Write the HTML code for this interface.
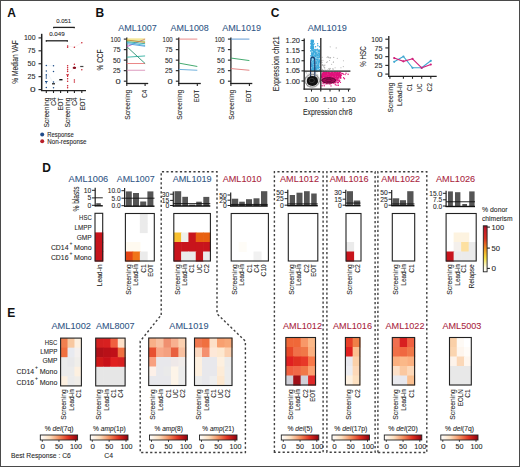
<!DOCTYPE html>
<html><head><meta charset="utf-8"><style>
html,body{margin:0;padding:0;background:#fff;width:520px;height:467px;overflow:hidden}
svg{display:block;font-family:"Liberation Sans", sans-serif}
</style></head><body>
<svg width="520" height="467" viewBox="0 0 520 467">
<rect width="520" height="467" fill="#fff"/>
<text x="7.30" y="16.90" font-size="12" fill="#111" font-weight="bold">A</text>
<text x="63.70" y="22.59" font-size="5.8" fill="#262626" text-anchor="middle" textLength="15.00" lengthAdjust="spacingAndGlyphs" stroke="#262626" stroke-width="0.08">0.051</text>
<line x1="53.20" y1="27.40" x2="74.70" y2="27.40" stroke="#222" stroke-width="1.3"/>
<line x1="53.70" y1="27.00" x2="53.70" y2="28.30" stroke="#222" stroke-width="1"/>
<line x1="74.20" y1="27.00" x2="74.20" y2="28.30" stroke="#222" stroke-width="1"/>
<text x="56.90" y="35.89" font-size="5.8" fill="#262626" text-anchor="middle" textLength="15.50" lengthAdjust="spacingAndGlyphs" stroke="#262626" stroke-width="0.08">0.049</text>
<line x1="45.80" y1="40.80" x2="67.80" y2="40.80" stroke="#222" stroke-width="1.3"/>
<line x1="46.30" y1="40.40" x2="46.30" y2="41.70" stroke="#222" stroke-width="1"/>
<line x1="67.30" y1="40.40" x2="67.30" y2="41.70" stroke="#222" stroke-width="1"/>
<line x1="41.70" y1="33.80" x2="41.70" y2="91.00" stroke="#222" stroke-width="1.5"/>
<line x1="38.50" y1="89.60" x2="41.60" y2="89.60" stroke="#222" stroke-width="1.1"/>
<text x="35.60" y="92.19" font-size="7.2" fill="#262626" text-anchor="end" textLength="5.60" lengthAdjust="spacingAndGlyphs" stroke="#262626" stroke-width="0.08">0</text>
<line x1="38.50" y1="76.67" x2="41.60" y2="76.67" stroke="#222" stroke-width="1.1"/>
<text x="35.60" y="79.27" font-size="7.2" fill="#262626" text-anchor="end" textLength="8.00" lengthAdjust="spacingAndGlyphs" stroke="#262626" stroke-width="0.08">25</text>
<line x1="38.50" y1="63.75" x2="41.60" y2="63.75" stroke="#222" stroke-width="1.1"/>
<text x="35.60" y="66.34" font-size="7.2" fill="#262626" text-anchor="end" textLength="8.00" lengthAdjust="spacingAndGlyphs" stroke="#262626" stroke-width="0.08">50</text>
<line x1="38.50" y1="50.82" x2="41.60" y2="50.82" stroke="#222" stroke-width="1.1"/>
<text x="35.60" y="53.42" font-size="7.2" fill="#262626" text-anchor="end" textLength="8.00" lengthAdjust="spacingAndGlyphs" stroke="#262626" stroke-width="0.08">75</text>
<line x1="38.50" y1="37.90" x2="41.60" y2="37.90" stroke="#222" stroke-width="1.1"/>
<text x="35.60" y="40.49" font-size="7.2" fill="#262626" text-anchor="end" textLength="11.60" lengthAdjust="spacingAndGlyphs" stroke="#262626" stroke-width="0.08">100</text>
<line x1="41.00" y1="90.60" x2="86.00" y2="90.60" stroke="#222" stroke-width="1.3"/>
<line x1="46.30" y1="90.60" x2="46.30" y2="93.00" stroke="#222" stroke-width="1.1"/>
<line x1="53.50" y1="90.60" x2="53.50" y2="93.00" stroke="#222" stroke-width="1.1"/>
<line x1="60.60" y1="90.60" x2="60.60" y2="93.00" stroke="#222" stroke-width="1.1"/>
<line x1="67.60" y1="90.60" x2="67.60" y2="93.00" stroke="#222" stroke-width="1.1"/>
<line x1="74.40" y1="90.60" x2="74.40" y2="93.00" stroke="#222" stroke-width="1.1"/>
<line x1="81.80" y1="90.60" x2="81.80" y2="93.00" stroke="#222" stroke-width="1.1"/>
<text transform="translate(18.10,61.90) rotate(-90)" font-size="8.6" fill="#262626" text-anchor="middle" textLength="43.60" lengthAdjust="spacingAndGlyphs" stroke="#262626" stroke-width="0.08">% Median VAF</text>
<text transform="translate(49.12,97.60) rotate(-90)" font-size="7.0" fill="#262626" text-anchor="end" textLength="30.00" lengthAdjust="spacingAndGlyphs" stroke="#262626" stroke-width="0.08">Screening</text>
<text transform="translate(56.32,97.60) rotate(-90)" font-size="7.0" fill="#262626" text-anchor="end" textLength="8.20" lengthAdjust="spacingAndGlyphs" stroke="#262626" stroke-width="0.08">C4</text>
<text transform="translate(63.42,97.60) rotate(-90)" font-size="7.0" fill="#262626" text-anchor="end" textLength="13.00" lengthAdjust="spacingAndGlyphs" stroke="#262626" stroke-width="0.08">EOT</text>
<text transform="translate(70.42,97.60) rotate(-90)" font-size="7.0" fill="#262626" text-anchor="end" textLength="30.00" lengthAdjust="spacingAndGlyphs" stroke="#262626" stroke-width="0.08">Screening</text>
<text transform="translate(77.22,97.60) rotate(-90)" font-size="7.0" fill="#262626" text-anchor="end" textLength="8.20" lengthAdjust="spacingAndGlyphs" stroke="#262626" stroke-width="0.08">C4</text>
<text transform="translate(84.62,97.60) rotate(-90)" font-size="7.0" fill="#262626" text-anchor="end" textLength="13.00" lengthAdjust="spacingAndGlyphs" stroke="#262626" stroke-width="0.08">EOT</text>
<path d="M46.3,71 L53.5,83.5 L60.6,79.7" stroke="#e2ecf5" fill="none" stroke-width="0.5"/>
<path d="M46.3,65.6 L53.5,65.8" stroke="#e2ecf5" fill="none" stroke-width="0.5"/>
<path d="M67.6,74.8 L74.4,67.8 L81.8,66.5" stroke="#f8e2e4" fill="none" stroke-width="0.5"/>
<path d="M67.6,46 L74.4,47.2 L81.8,42.7" stroke="#f8e2e4" fill="none" stroke-width="0.5"/>
<circle cx="46.30" cy="65.60" r="0.75" fill="#1f4f8a"/>
<circle cx="46.30" cy="71.00" r="0.75" fill="#1f4f8a"/>
<circle cx="46.30" cy="74.80" r="0.75" fill="#1f4f8a"/>
<circle cx="46.30" cy="76.10" r="0.75" fill="#1f4f8a"/>
<circle cx="46.30" cy="78.00" r="0.75" fill="#1f4f8a"/>
<circle cx="46.30" cy="87.40" r="0.75" fill="#1f4f8a"/>
<path d="M45,81.5 L47.6,81.5 M46.3,81.5 L46.3,83.5" stroke="#1f4f8a" fill="none" stroke-width="1.1"/>
<circle cx="53.50" cy="65.80" r="0.75" fill="#1f4f8a"/>
<circle cx="53.50" cy="71.40" r="0.75" fill="#1f4f8a"/>
<circle cx="53.50" cy="81.90" r="0.75" fill="#1f4f8a"/>
<circle cx="53.50" cy="87.70" r="0.75" fill="#1f4f8a"/>
<path d="M52,83.8 L55,83.8" stroke="#111" fill="none" stroke-width="1.2"/>
<path d="M59.3,79.7 L62.5,79.7" stroke="#111" fill="none" stroke-width="1.4"/>
<circle cx="67.60" cy="45.90" r="0.75" fill="#c8202e"/>
<circle cx="67.60" cy="47.20" r="0.75" fill="#c8202e"/>
<circle cx="67.60" cy="65.80" r="0.75" fill="#c8202e"/>
<circle cx="67.60" cy="67.80" r="0.75" fill="#c8202e"/>
<circle cx="67.60" cy="69.70" r="0.75" fill="#c8202e"/>
<circle cx="67.60" cy="71.60" r="0.75" fill="#c8202e"/>
<circle cx="67.60" cy="78.70" r="0.75" fill="#c8202e"/>
<circle cx="67.60" cy="81.30" r="0.75" fill="#c8202e"/>
<circle cx="67.60" cy="85.80" r="0.75" fill="#c8202e"/>
<circle cx="67.60" cy="87.70" r="0.75" fill="#c8202e"/>
<path d="M66.2,74.8 L69,74.8 M67.6,74.8 L67.6,77" stroke="#c8202e" fill="none" stroke-width="1.1"/>
<circle cx="74.40" cy="47.20" r="0.75" fill="#c8202e"/>
<circle cx="74.40" cy="64.30" r="0.75" fill="#c8202e"/>
<circle cx="74.40" cy="80.00" r="0.75" fill="#c8202e"/>
<circle cx="74.40" cy="81.90" r="0.75" fill="#c8202e"/>
<path d="M72.8,67.8 L76,67.8" stroke="#8a1020" fill="none" stroke-width="1.6"/>
<circle cx="74.40" cy="67.80" r="1.2" fill="#8a1020"/>
<circle cx="81.80" cy="42.70" r="0.75" fill="#c8202e"/>
<circle cx="81.80" cy="69.70" r="0.75" fill="#c8202e"/>
<path d="M80.2,66.5 L83.4,66.5" stroke="#444" fill="none" stroke-width="1.2"/>
<circle cx="42.20" cy="134.60" r="2.0" fill="#1f4a8a"/>
<text x="47.30" y="136.87" font-size="6.3" fill="#262626" textLength="26.40" lengthAdjust="spacingAndGlyphs" stroke="#262626" stroke-width="0.08">Response</text>
<circle cx="42.20" cy="141.30" r="2.0" fill="#b8202a"/>
<text x="47.30" y="143.57" font-size="6.3" fill="#262626" textLength="39.20" lengthAdjust="spacingAndGlyphs" stroke="#262626" stroke-width="0.08">Non-response</text>
<text x="95.60" y="16.90" font-size="12" fill="#111" font-weight="bold">B</text>
<text x="137.55" y="31.36" font-size="9.6" fill="#2f5585" text-anchor="middle" textLength="38.50" lengthAdjust="spacingAndGlyphs" stroke="#2f5585" stroke-width="0.08">AML1007</text>
<line x1="126.80" y1="37.50" x2="126.80" y2="84.00" stroke="#222" stroke-width="1.3"/>
<line x1="123.80" y1="81.20" x2="126.80" y2="81.20" stroke="#222" stroke-width="1.1"/>
<text x="120.60" y="83.72" font-size="7" fill="#262626" text-anchor="end" textLength="5.20" lengthAdjust="spacingAndGlyphs" stroke="#262626" stroke-width="0.08">0</text>
<line x1="123.80" y1="70.67" x2="126.80" y2="70.67" stroke="#222" stroke-width="1.1"/>
<text x="120.60" y="73.19" font-size="7" fill="#262626" text-anchor="end" textLength="7.60" lengthAdjust="spacingAndGlyphs" stroke="#262626" stroke-width="0.08">25</text>
<line x1="123.80" y1="60.15" x2="126.80" y2="60.15" stroke="#222" stroke-width="1.1"/>
<text x="120.60" y="62.67" font-size="7" fill="#262626" text-anchor="end" textLength="7.60" lengthAdjust="spacingAndGlyphs" stroke="#262626" stroke-width="0.08">50</text>
<line x1="123.80" y1="49.62" x2="126.80" y2="49.62" stroke="#222" stroke-width="1.1"/>
<text x="120.60" y="52.15" font-size="7" fill="#262626" text-anchor="end" textLength="7.60" lengthAdjust="spacingAndGlyphs" stroke="#262626" stroke-width="0.08">75</text>
<line x1="123.80" y1="39.10" x2="126.80" y2="39.10" stroke="#222" stroke-width="1.1"/>
<text x="120.60" y="41.62" font-size="7" fill="#262626" text-anchor="end" textLength="10.00" lengthAdjust="spacingAndGlyphs" stroke="#262626" stroke-width="0.08">100</text>
<line x1="126.20" y1="83.50" x2="148.20" y2="83.50" stroke="#222" stroke-width="1.3"/>
<line x1="126.80" y1="83.50" x2="126.80" y2="86.00" stroke="#222" stroke-width="1.1"/>
<text transform="translate(130.05,89.80) rotate(-90)" font-size="6.8" fill="#262626" text-anchor="end" textLength="30.00" lengthAdjust="spacingAndGlyphs" stroke="#262626" stroke-width="0.08">Screening</text>
<line x1="145.10" y1="83.50" x2="145.10" y2="86.00" stroke="#222" stroke-width="1.1"/>
<text transform="translate(146.95,89.80) rotate(-90)" font-size="6.8" fill="#262626" text-anchor="end" textLength="8.00" lengthAdjust="spacingAndGlyphs" stroke="#262626" stroke-width="0.08">C4</text>
<line x1="126.80" y1="70.25" x2="145.10" y2="70.25" stroke="#d890b8" stroke-width="0.9"/>
<line x1="126.80" y1="63.52" x2="145.10" y2="63.52" stroke="#e87878" stroke-width="0.9"/>
<line x1="126.80" y1="57.20" x2="145.10" y2="55.94" stroke="#30b0a0" stroke-width="0.9"/>
<line x1="126.80" y1="46.68" x2="145.10" y2="63.52" stroke="#2a9070" stroke-width="0.9"/>
<line x1="126.80" y1="46.68" x2="145.10" y2="39.10" stroke="#c050c0" stroke-width="0.9"/>
<line x1="126.80" y1="42.47" x2="145.10" y2="45.42" stroke="#40b8e0" stroke-width="0.9"/>
<line x1="126.80" y1="43.73" x2="145.10" y2="46.26" stroke="#5098d8" stroke-width="0.9"/>
<line x1="126.80" y1="41.63" x2="145.10" y2="43.73" stroke="#30a898" stroke-width="0.9"/>
<line x1="126.80" y1="40.78" x2="145.10" y2="41.21" stroke="#90c840" stroke-width="0.9"/>
<line x1="126.80" y1="39.94" x2="145.10" y2="42.47" stroke="#c88840" stroke-width="0.9"/>
<line x1="126.80" y1="39.10" x2="145.10" y2="39.10" stroke="#e8d040" stroke-width="0.9"/>
<text x="189.70" y="31.36" font-size="9.6" fill="#2f5585" text-anchor="middle" textLength="38.20" lengthAdjust="spacingAndGlyphs" stroke="#2f5585" stroke-width="0.08">AML1008</text>
<line x1="178.80" y1="37.50" x2="178.80" y2="84.00" stroke="#222" stroke-width="1.3"/>
<line x1="175.80" y1="81.20" x2="178.80" y2="81.20" stroke="#222" stroke-width="1.1"/>
<text x="172.60" y="83.72" font-size="7" fill="#262626" text-anchor="end" textLength="5.20" lengthAdjust="spacingAndGlyphs" stroke="#262626" stroke-width="0.08">0</text>
<line x1="175.80" y1="70.67" x2="178.80" y2="70.67" stroke="#222" stroke-width="1.1"/>
<text x="172.60" y="73.19" font-size="7" fill="#262626" text-anchor="end" textLength="7.60" lengthAdjust="spacingAndGlyphs" stroke="#262626" stroke-width="0.08">25</text>
<line x1="175.80" y1="60.15" x2="178.80" y2="60.15" stroke="#222" stroke-width="1.1"/>
<text x="172.60" y="62.67" font-size="7" fill="#262626" text-anchor="end" textLength="7.60" lengthAdjust="spacingAndGlyphs" stroke="#262626" stroke-width="0.08">50</text>
<line x1="175.80" y1="49.62" x2="178.80" y2="49.62" stroke="#222" stroke-width="1.1"/>
<text x="172.60" y="52.15" font-size="7" fill="#262626" text-anchor="end" textLength="7.60" lengthAdjust="spacingAndGlyphs" stroke="#262626" stroke-width="0.08">75</text>
<line x1="175.80" y1="39.10" x2="178.80" y2="39.10" stroke="#222" stroke-width="1.1"/>
<text x="172.60" y="41.62" font-size="7" fill="#262626" text-anchor="end" textLength="10.00" lengthAdjust="spacingAndGlyphs" stroke="#262626" stroke-width="0.08">100</text>
<line x1="178.20" y1="83.50" x2="200.80" y2="83.50" stroke="#222" stroke-width="1.3"/>
<line x1="178.80" y1="83.50" x2="178.80" y2="86.00" stroke="#222" stroke-width="1.1"/>
<text transform="translate(182.05,89.80) rotate(-90)" font-size="6.8" fill="#262626" text-anchor="end" textLength="30.00" lengthAdjust="spacingAndGlyphs" stroke="#262626" stroke-width="0.08">Screening</text>
<line x1="197.30" y1="83.50" x2="197.30" y2="86.00" stroke="#222" stroke-width="1.1"/>
<text transform="translate(199.15,89.80) rotate(-90)" font-size="6.8" fill="#262626" text-anchor="end" textLength="12.50" lengthAdjust="spacingAndGlyphs" stroke="#262626" stroke-width="0.08">EOT</text>
<line x1="178.80" y1="39.10" x2="197.30" y2="39.10" stroke="#e88080" stroke-width="0.9"/>
<line x1="178.80" y1="63.10" x2="197.30" y2="66.47" stroke="#30a060" stroke-width="0.9"/>
<line x1="178.80" y1="69.41" x2="197.30" y2="70.25" stroke="#60a8d8" stroke-width="0.9"/>
<text x="241.65" y="31.36" font-size="9.6" fill="#2f5585" text-anchor="middle" textLength="38.70" lengthAdjust="spacingAndGlyphs" stroke="#2f5585" stroke-width="0.08">AML1019</text>
<line x1="230.90" y1="37.50" x2="230.90" y2="84.00" stroke="#222" stroke-width="1.3"/>
<line x1="227.90" y1="81.20" x2="230.90" y2="81.20" stroke="#222" stroke-width="1.1"/>
<text x="224.70" y="83.72" font-size="7" fill="#262626" text-anchor="end" textLength="5.20" lengthAdjust="spacingAndGlyphs" stroke="#262626" stroke-width="0.08">0</text>
<line x1="227.90" y1="70.67" x2="230.90" y2="70.67" stroke="#222" stroke-width="1.1"/>
<text x="224.70" y="73.19" font-size="7" fill="#262626" text-anchor="end" textLength="7.60" lengthAdjust="spacingAndGlyphs" stroke="#262626" stroke-width="0.08">25</text>
<line x1="227.90" y1="60.15" x2="230.90" y2="60.15" stroke="#222" stroke-width="1.1"/>
<text x="224.70" y="62.67" font-size="7" fill="#262626" text-anchor="end" textLength="7.60" lengthAdjust="spacingAndGlyphs" stroke="#262626" stroke-width="0.08">50</text>
<line x1="227.90" y1="49.62" x2="230.90" y2="49.62" stroke="#222" stroke-width="1.1"/>
<text x="224.70" y="52.15" font-size="7" fill="#262626" text-anchor="end" textLength="7.60" lengthAdjust="spacingAndGlyphs" stroke="#262626" stroke-width="0.08">75</text>
<line x1="227.90" y1="39.10" x2="230.90" y2="39.10" stroke="#222" stroke-width="1.1"/>
<text x="224.70" y="41.62" font-size="7" fill="#262626" text-anchor="end" textLength="10.00" lengthAdjust="spacingAndGlyphs" stroke="#262626" stroke-width="0.08">100</text>
<line x1="230.30" y1="83.50" x2="252.30" y2="83.50" stroke="#222" stroke-width="1.3"/>
<line x1="230.90" y1="83.50" x2="230.90" y2="86.00" stroke="#222" stroke-width="1.1"/>
<text transform="translate(234.15,89.80) rotate(-90)" font-size="6.8" fill="#262626" text-anchor="end" textLength="30.00" lengthAdjust="spacingAndGlyphs" stroke="#262626" stroke-width="0.08">Screening</text>
<line x1="249.40" y1="83.50" x2="249.40" y2="86.00" stroke="#222" stroke-width="1.1"/>
<text transform="translate(251.25,89.80) rotate(-90)" font-size="6.8" fill="#262626" text-anchor="end" textLength="12.50" lengthAdjust="spacingAndGlyphs" stroke="#262626" stroke-width="0.08">EOT</text>
<line x1="230.90" y1="39.10" x2="249.40" y2="39.10" stroke="#5090d0" stroke-width="0.9"/>
<line x1="230.90" y1="58.05" x2="249.40" y2="60.57" stroke="#30a060" stroke-width="0.9"/>
<line x1="230.90" y1="68.57" x2="249.40" y2="70.25" stroke="#e07878" stroke-width="0.9"/>
<text transform="translate(103.02,60.00) rotate(-90)" font-size="8.4" fill="#262626" text-anchor="middle" textLength="20.90" lengthAdjust="spacingAndGlyphs" stroke="#262626" stroke-width="0.08">% CCF</text>
<text x="270.80" y="17.20" font-size="12" fill="#111" font-weight="bold">C</text>
<text x="327.30" y="31.36" font-size="9.6" fill="#2f5585" text-anchor="middle" textLength="39.20" lengthAdjust="spacingAndGlyphs" stroke="#2f5585" stroke-width="0.08">AML1019</text>
<text transform="translate(278.70,63.80) rotate(-90)" font-size="8.6" fill="#262626" text-anchor="middle" textLength="55.00" lengthAdjust="spacingAndGlyphs" stroke="#262626" stroke-width="0.08">Expression chr21</text>
<text x="327.60" y="114.90" font-size="8.6" fill="#262626" text-anchor="middle" textLength="49.30" lengthAdjust="spacingAndGlyphs" stroke="#262626" stroke-width="0.08">Expression chr8</text>
<ellipse cx="312.5" cy="80" rx="7.5" ry="8" fill="#d8d8d8" opacity="0.8"/>
<circle cx="311.60" cy="82.05" r="0.6" fill="#a0a0a0" opacity="0.8"/>
<circle cx="311.71" cy="78.74" r="0.6" fill="#a0a0a0" opacity="0.8"/>
<circle cx="309.24" cy="79.15" r="0.6" fill="#a0a0a0" opacity="0.8"/>
<circle cx="316.39" cy="81.70" r="0.6" fill="#a0a0a0" opacity="0.8"/>
<circle cx="316.13" cy="81.00" r="0.6" fill="#a0a0a0" opacity="0.8"/>
<circle cx="313.88" cy="80.74" r="0.6" fill="#a0a0a0" opacity="0.8"/>
<circle cx="306.67" cy="83.42" r="0.6" fill="#a0a0a0" opacity="0.8"/>
<circle cx="314.27" cy="82.00" r="0.6" fill="#a0a0a0" opacity="0.8"/>
<circle cx="306.58" cy="73.02" r="0.6" fill="#a0a0a0" opacity="0.8"/>
<circle cx="309.39" cy="78.13" r="0.6" fill="#a0a0a0" opacity="0.8"/>
<circle cx="313.57" cy="79.82" r="0.6" fill="#a0a0a0" opacity="0.8"/>
<circle cx="314.32" cy="77.43" r="0.6" fill="#a0a0a0" opacity="0.8"/>
<circle cx="313.58" cy="81.58" r="0.6" fill="#a0a0a0" opacity="0.8"/>
<circle cx="310.19" cy="86.87" r="0.6" fill="#a0a0a0" opacity="0.8"/>
<circle cx="314.45" cy="84.79" r="0.6" fill="#a0a0a0" opacity="0.8"/>
<circle cx="310.33" cy="77.04" r="0.6" fill="#a0a0a0" opacity="0.8"/>
<circle cx="311.30" cy="79.57" r="0.6" fill="#a0a0a0" opacity="0.8"/>
<circle cx="314.71" cy="80.99" r="0.6" fill="#a0a0a0" opacity="0.8"/>
<circle cx="310.93" cy="76.17" r="0.6" fill="#a0a0a0" opacity="0.8"/>
<circle cx="310.68" cy="84.88" r="0.6" fill="#a0a0a0" opacity="0.8"/>
<circle cx="309.67" cy="80.98" r="0.6" fill="#a0a0a0" opacity="0.8"/>
<circle cx="313.99" cy="74.04" r="0.6" fill="#a0a0a0" opacity="0.8"/>
<circle cx="312.67" cy="85.22" r="0.6" fill="#a0a0a0" opacity="0.8"/>
<circle cx="305.50" cy="78.71" r="0.6" fill="#a0a0a0" opacity="0.8"/>
<circle cx="312.13" cy="76.73" r="0.6" fill="#a0a0a0" opacity="0.8"/>
<circle cx="314.24" cy="79.75" r="0.6" fill="#a0a0a0" opacity="0.8"/>
<circle cx="307.37" cy="83.31" r="0.6" fill="#a0a0a0" opacity="0.8"/>
<circle cx="314.84" cy="83.78" r="0.6" fill="#a0a0a0" opacity="0.8"/>
<circle cx="317.54" cy="81.45" r="0.6" fill="#a0a0a0" opacity="0.8"/>
<circle cx="312.92" cy="74.80" r="0.6" fill="#a0a0a0" opacity="0.8"/>
<circle cx="314.65" cy="77.55" r="0.6" fill="#a0a0a0" opacity="0.8"/>
<circle cx="310.92" cy="74.94" r="0.6" fill="#a0a0a0" opacity="0.8"/>
<circle cx="309.11" cy="77.88" r="0.6" fill="#a0a0a0" opacity="0.8"/>
<circle cx="317.01" cy="72.00" r="0.6" fill="#a0a0a0" opacity="0.8"/>
<circle cx="307.40" cy="80.96" r="0.6" fill="#a0a0a0" opacity="0.8"/>
<circle cx="317.55" cy="82.31" r="0.6" fill="#a0a0a0" opacity="0.8"/>
<circle cx="305.85" cy="72.00" r="0.6" fill="#a0a0a0" opacity="0.8"/>
<circle cx="313.75" cy="77.05" r="0.6" fill="#a0a0a0" opacity="0.8"/>
<circle cx="308.58" cy="83.91" r="0.6" fill="#a0a0a0" opacity="0.8"/>
<circle cx="316.36" cy="80.63" r="0.6" fill="#a0a0a0" opacity="0.8"/>
<circle cx="313.36" cy="81.74" r="0.6" fill="#a0a0a0" opacity="0.8"/>
<circle cx="318.08" cy="82.48" r="0.6" fill="#a0a0a0" opacity="0.8"/>
<circle cx="314.32" cy="82.19" r="0.6" fill="#a0a0a0" opacity="0.8"/>
<circle cx="307.01" cy="85.13" r="0.6" fill="#a0a0a0" opacity="0.8"/>
<circle cx="315.84" cy="82.12" r="0.6" fill="#a0a0a0" opacity="0.8"/>
<circle cx="305.59" cy="77.47" r="0.6" fill="#a0a0a0" opacity="0.8"/>
<circle cx="315.45" cy="72.76" r="0.6" fill="#a0a0a0" opacity="0.8"/>
<circle cx="311.86" cy="84.08" r="0.6" fill="#a0a0a0" opacity="0.8"/>
<circle cx="307.91" cy="86.44" r="0.6" fill="#a0a0a0" opacity="0.8"/>
<circle cx="314.43" cy="79.40" r="0.6" fill="#a0a0a0" opacity="0.8"/>
<circle cx="313.64" cy="82.60" r="0.6" fill="#a0a0a0" opacity="0.8"/>
<circle cx="312.92" cy="84.58" r="0.6" fill="#a0a0a0" opacity="0.8"/>
<circle cx="310.18" cy="78.34" r="0.6" fill="#a0a0a0" opacity="0.8"/>
<circle cx="316.15" cy="80.11" r="0.6" fill="#a0a0a0" opacity="0.8"/>
<circle cx="309.42" cy="83.79" r="0.6" fill="#a0a0a0" opacity="0.8"/>
<circle cx="317.63" cy="78.22" r="0.6" fill="#a0a0a0" opacity="0.8"/>
<circle cx="307.67" cy="79.46" r="0.6" fill="#a0a0a0" opacity="0.8"/>
<circle cx="311.98" cy="78.81" r="0.6" fill="#a0a0a0" opacity="0.8"/>
<circle cx="317.42" cy="75.89" r="0.6" fill="#a0a0a0" opacity="0.8"/>
<circle cx="316.91" cy="74.93" r="0.6" fill="#a0a0a0" opacity="0.8"/>
<circle cx="309.75" cy="82.53" r="0.6" fill="#a0a0a0" opacity="0.8"/>
<circle cx="316.45" cy="83.44" r="0.6" fill="#a0a0a0" opacity="0.8"/>
<circle cx="313.71" cy="80.57" r="0.6" fill="#a0a0a0" opacity="0.8"/>
<circle cx="313.03" cy="82.30" r="0.6" fill="#a0a0a0" opacity="0.8"/>
<circle cx="311.88" cy="81.11" r="0.6" fill="#a0a0a0" opacity="0.8"/>
<circle cx="314.50" cy="80.00" r="0.6" fill="#a0a0a0" opacity="0.8"/>
<circle cx="315.17" cy="82.26" r="0.6" fill="#a0a0a0" opacity="0.8"/>
<circle cx="319.54" cy="81.30" r="0.6" fill="#a0a0a0" opacity="0.8"/>
<circle cx="311.00" cy="78.51" r="0.6" fill="#a0a0a0" opacity="0.8"/>
<circle cx="312.45" cy="83.70" r="0.6" fill="#a0a0a0" opacity="0.8"/>
<circle cx="324.19" cy="67.53" r="0.55" fill="#a8a8a8" opacity="0.9"/>
<circle cx="336.20" cy="47.92" r="0.55" fill="#a8a8a8" opacity="0.9"/>
<circle cx="330.49" cy="68.80" r="0.55" fill="#a8a8a8" opacity="0.9"/>
<circle cx="324.69" cy="68.85" r="0.55" fill="#a8a8a8" opacity="0.9"/>
<circle cx="324.95" cy="65.10" r="0.55" fill="#a8a8a8" opacity="0.9"/>
<circle cx="323.76" cy="66.30" r="0.55" fill="#a8a8a8" opacity="0.9"/>
<circle cx="340.94" cy="67.80" r="0.55" fill="#a8a8a8" opacity="0.9"/>
<circle cx="325.93" cy="70.10" r="0.55" fill="#a8a8a8" opacity="0.9"/>
<circle cx="323.30" cy="70.44" r="0.55" fill="#a8a8a8" opacity="0.9"/>
<circle cx="343.32" cy="66.62" r="0.55" fill="#a8a8a8" opacity="0.9"/>
<circle cx="329.57" cy="60.48" r="0.55" fill="#a8a8a8" opacity="0.9"/>
<circle cx="322.03" cy="62.42" r="0.55" fill="#a8a8a8" opacity="0.9"/>
<circle cx="328.35" cy="57.58" r="0.55" fill="#a8a8a8" opacity="0.9"/>
<circle cx="335.11" cy="67.82" r="0.55" fill="#a8a8a8" opacity="0.9"/>
<circle cx="324.23" cy="65.39" r="0.55" fill="#a8a8a8" opacity="0.9"/>
<circle cx="330.23" cy="46.85" r="0.55" fill="#a8a8a8" opacity="0.9"/>
<circle cx="330.21" cy="57.97" r="0.55" fill="#a8a8a8" opacity="0.9"/>
<circle cx="326.97" cy="57.57" r="0.55" fill="#a8a8a8" opacity="0.9"/>
<circle cx="322.91" cy="60.25" r="0.55" fill="#a8a8a8" opacity="0.9"/>
<circle cx="322.69" cy="69.28" r="0.55" fill="#a8a8a8" opacity="0.9"/>
<circle cx="327.88" cy="69.73" r="0.55" fill="#a8a8a8" opacity="0.9"/>
<circle cx="322.21" cy="57.20" r="0.55" fill="#a8a8a8" opacity="0.9"/>
<circle cx="329.89" cy="68.36" r="0.55" fill="#a8a8a8" opacity="0.9"/>
<circle cx="343.46" cy="60.68" r="0.55" fill="#a8a8a8" opacity="0.9"/>
<circle cx="328.82" cy="68.61" r="0.55" fill="#a8a8a8" opacity="0.9"/>
<circle cx="322.56" cy="64.65" r="0.55" fill="#a8a8a8" opacity="0.9"/>
<circle cx="323.28" cy="65.25" r="0.55" fill="#a8a8a8" opacity="0.9"/>
<circle cx="333.72" cy="57.41" r="0.55" fill="#a8a8a8" opacity="0.9"/>
<circle cx="326.42" cy="62.33" r="0.55" fill="#a8a8a8" opacity="0.9"/>
<circle cx="329.71" cy="57.77" r="0.55" fill="#a8a8a8" opacity="0.9"/>
<circle cx="331.63" cy="64.28" r="0.55" fill="#a8a8a8" opacity="0.9"/>
<circle cx="333.28" cy="62.56" r="0.55" fill="#a8a8a8" opacity="0.9"/>
<circle cx="321.51" cy="60.74" r="0.55" fill="#a8a8a8" opacity="0.9"/>
<circle cx="327.63" cy="56.70" r="0.55" fill="#a8a8a8" opacity="0.9"/>
<circle cx="328.62" cy="56.96" r="0.55" fill="#a8a8a8" opacity="0.9"/>
<circle cx="329.40" cy="69.40" r="0.55" fill="#a8a8a8" opacity="0.9"/>
<circle cx="337.28" cy="58.34" r="0.55" fill="#a8a8a8" opacity="0.9"/>
<circle cx="322.27" cy="65.57" r="0.55" fill="#a8a8a8" opacity="0.9"/>
<circle cx="324.70" cy="67.31" r="0.55" fill="#a8a8a8" opacity="0.9"/>
<circle cx="333.48" cy="61.82" r="0.55" fill="#a8a8a8" opacity="0.9"/>
<circle cx="330.59" cy="57.61" r="0.55" fill="#a8a8a8" opacity="0.9"/>
<circle cx="333.12" cy="69.37" r="0.55" fill="#a8a8a8" opacity="0.9"/>
<circle cx="327.45" cy="61.83" r="0.55" fill="#a8a8a8" opacity="0.9"/>
<circle cx="322.42" cy="69.88" r="0.55" fill="#a8a8a8" opacity="0.9"/>
<circle cx="332.89" cy="68.63" r="0.55" fill="#a8a8a8" opacity="0.9"/>
<circle cx="319.20" cy="56.32" r="0.7" fill="#38a8dc"/>
<circle cx="318.65" cy="53.45" r="0.7" fill="#38a8dc"/>
<circle cx="312.70" cy="65.61" r="0.7" fill="#38a8dc"/>
<circle cx="311.47" cy="47.81" r="0.7" fill="#38a8dc"/>
<circle cx="313.13" cy="58.18" r="0.7" fill="#38a8dc"/>
<circle cx="311.98" cy="52.99" r="0.7" fill="#38a8dc"/>
<circle cx="313.98" cy="68.21" r="0.7" fill="#38a8dc"/>
<circle cx="316.05" cy="54.20" r="0.7" fill="#38a8dc"/>
<circle cx="314.59" cy="68.03" r="0.7" fill="#38a8dc"/>
<circle cx="315.31" cy="68.45" r="0.7" fill="#38a8dc"/>
<circle cx="315.51" cy="56.49" r="0.7" fill="#38a8dc"/>
<circle cx="311.31" cy="40.58" r="0.7" fill="#38a8dc"/>
<circle cx="311.28" cy="40.12" r="0.7" fill="#38a8dc"/>
<circle cx="317.33" cy="54.68" r="0.7" fill="#38a8dc"/>
<circle cx="313.73" cy="57.25" r="0.7" fill="#38a8dc"/>
<circle cx="315.80" cy="56.07" r="0.7" fill="#38a8dc"/>
<circle cx="311.75" cy="64.31" r="0.7" fill="#38a8dc"/>
<circle cx="313.04" cy="57.37" r="0.7" fill="#38a8dc"/>
<circle cx="312.22" cy="48.58" r="0.7" fill="#38a8dc"/>
<circle cx="317.64" cy="57.41" r="0.7" fill="#38a8dc"/>
<circle cx="314.79" cy="68.29" r="0.7" fill="#38a8dc"/>
<circle cx="315.35" cy="58.99" r="0.7" fill="#38a8dc"/>
<circle cx="317.03" cy="55.88" r="0.7" fill="#38a8dc"/>
<circle cx="315.60" cy="54.02" r="0.7" fill="#38a8dc"/>
<circle cx="319.27" cy="54.82" r="0.7" fill="#38a8dc"/>
<circle cx="318.69" cy="61.68" r="0.7" fill="#38a8dc"/>
<circle cx="313.14" cy="69.21" r="0.7" fill="#38a8dc"/>
<circle cx="319.29" cy="57.34" r="0.7" fill="#38a8dc"/>
<circle cx="312.03" cy="66.04" r="0.7" fill="#38a8dc"/>
<circle cx="311.00" cy="43.77" r="0.7" fill="#38a8dc"/>
<circle cx="312.67" cy="47.46" r="0.7" fill="#38a8dc"/>
<circle cx="318.87" cy="64.30" r="0.7" fill="#38a8dc"/>
<circle cx="312.65" cy="44.79" r="0.7" fill="#38a8dc"/>
<circle cx="313.51" cy="44.43" r="0.7" fill="#38a8dc"/>
<circle cx="315.59" cy="46.81" r="0.7" fill="#38a8dc"/>
<circle cx="319.71" cy="55.11" r="0.7" fill="#38a8dc"/>
<circle cx="312.25" cy="65.81" r="0.7" fill="#38a8dc"/>
<circle cx="315.44" cy="53.38" r="0.7" fill="#38a8dc"/>
<circle cx="312.56" cy="50.51" r="0.7" fill="#38a8dc"/>
<circle cx="317.30" cy="49.87" r="0.7" fill="#38a8dc"/>
<circle cx="312.03" cy="40.60" r="0.7" fill="#38a8dc"/>
<circle cx="312.55" cy="40.56" r="0.7" fill="#38a8dc"/>
<circle cx="311.38" cy="55.88" r="0.7" fill="#38a8dc"/>
<circle cx="317.90" cy="70.54" r="0.7" fill="#38a8dc"/>
<circle cx="311.74" cy="70.12" r="0.7" fill="#38a8dc"/>
<circle cx="312.98" cy="48.23" r="0.7" fill="#38a8dc"/>
<circle cx="311.98" cy="48.38" r="0.7" fill="#38a8dc"/>
<circle cx="318.17" cy="68.25" r="0.7" fill="#38a8dc"/>
<circle cx="313.37" cy="48.02" r="0.7" fill="#38a8dc"/>
<circle cx="317.10" cy="57.69" r="0.7" fill="#38a8dc"/>
<circle cx="312.73" cy="42.77" r="0.7" fill="#38a8dc"/>
<circle cx="311.45" cy="53.18" r="0.7" fill="#38a8dc"/>
<circle cx="316.51" cy="69.09" r="0.7" fill="#38a8dc"/>
<circle cx="311.55" cy="64.85" r="0.7" fill="#38a8dc"/>
<circle cx="311.40" cy="66.54" r="0.7" fill="#38a8dc"/>
<circle cx="314.88" cy="66.75" r="0.7" fill="#38a8dc"/>
<circle cx="315.78" cy="50.51" r="0.7" fill="#38a8dc"/>
<circle cx="313.21" cy="68.73" r="0.7" fill="#38a8dc"/>
<circle cx="311.47" cy="44.01" r="0.7" fill="#38a8dc"/>
<circle cx="310.94" cy="43.39" r="0.7" fill="#38a8dc"/>
<circle cx="311.65" cy="46.25" r="0.7" fill="#38a8dc"/>
<circle cx="313.41" cy="63.54" r="0.7" fill="#38a8dc"/>
<circle cx="312.40" cy="55.50" r="0.7" fill="#38a8dc"/>
<circle cx="310.96" cy="50.76" r="0.7" fill="#38a8dc"/>
<circle cx="312.85" cy="47.76" r="0.7" fill="#38a8dc"/>
<circle cx="312.51" cy="57.08" r="0.7" fill="#38a8dc"/>
<circle cx="319.21" cy="54.72" r="0.7" fill="#38a8dc"/>
<circle cx="312.01" cy="43.29" r="0.7" fill="#38a8dc"/>
<circle cx="318.31" cy="55.35" r="0.7" fill="#38a8dc"/>
<circle cx="315.36" cy="52.19" r="0.7" fill="#38a8dc"/>
<circle cx="319.64" cy="61.32" r="0.7" fill="#38a8dc"/>
<circle cx="318.29" cy="50.62" r="0.7" fill="#38a8dc"/>
<circle cx="316.52" cy="61.91" r="0.7" fill="#38a8dc"/>
<circle cx="313.93" cy="52.55" r="0.7" fill="#38a8dc"/>
<circle cx="311.00" cy="41.69" r="0.7" fill="#38a8dc"/>
<circle cx="313.10" cy="62.97" r="0.7" fill="#38a8dc"/>
<circle cx="313.16" cy="45.06" r="0.7" fill="#38a8dc"/>
<circle cx="316.83" cy="66.99" r="0.7" fill="#38a8dc"/>
<circle cx="311.62" cy="48.74" r="0.7" fill="#38a8dc"/>
<circle cx="312.22" cy="54.24" r="0.7" fill="#38a8dc"/>
<circle cx="313.17" cy="53.82" r="0.7" fill="#38a8dc"/>
<circle cx="319.55" cy="69.82" r="0.7" fill="#38a8dc"/>
<circle cx="313.00" cy="56.96" r="0.7" fill="#38a8dc"/>
<circle cx="313.59" cy="69.94" r="0.7" fill="#38a8dc"/>
<circle cx="310.81" cy="51.05" r="0.7" fill="#38a8dc"/>
<circle cx="315.07" cy="51.83" r="0.7" fill="#38a8dc"/>
<circle cx="312.61" cy="55.59" r="0.7" fill="#38a8dc"/>
<circle cx="310.84" cy="55.65" r="0.7" fill="#38a8dc"/>
<circle cx="311.92" cy="48.19" r="0.7" fill="#38a8dc"/>
<circle cx="311.65" cy="41.29" r="0.7" fill="#38a8dc"/>
<circle cx="312.28" cy="47.22" r="0.7" fill="#38a8dc"/>
<circle cx="316.72" cy="63.27" r="0.7" fill="#38a8dc"/>
<circle cx="318.71" cy="62.20" r="0.7" fill="#38a8dc"/>
<circle cx="313.74" cy="52.08" r="0.7" fill="#38a8dc"/>
<circle cx="312.15" cy="70.53" r="0.7" fill="#38a8dc"/>
<circle cx="316.59" cy="62.45" r="0.7" fill="#38a8dc"/>
<circle cx="313.30" cy="41.36" r="0.7" fill="#38a8dc"/>
<circle cx="317.40" cy="59.45" r="0.7" fill="#38a8dc"/>
<circle cx="312.05" cy="65.18" r="0.7" fill="#38a8dc"/>
<circle cx="315.34" cy="56.24" r="0.7" fill="#38a8dc"/>
<circle cx="318.04" cy="65.88" r="0.7" fill="#38a8dc"/>
<circle cx="316.06" cy="65.62" r="0.7" fill="#38a8dc"/>
<circle cx="316.95" cy="67.68" r="0.7" fill="#38a8dc"/>
<circle cx="312.87" cy="61.49" r="0.7" fill="#38a8dc"/>
<circle cx="311.81" cy="40.97" r="0.7" fill="#38a8dc"/>
<circle cx="312.36" cy="43.25" r="0.7" fill="#38a8dc"/>
<circle cx="316.44" cy="59.46" r="0.7" fill="#38a8dc"/>
<circle cx="315.20" cy="61.10" r="0.7" fill="#38a8dc"/>
<circle cx="312.90" cy="40.10" r="0.7" fill="#38a8dc"/>
<circle cx="315.62" cy="55.59" r="0.7" fill="#38a8dc"/>
<circle cx="311.39" cy="60.44" r="0.7" fill="#38a8dc"/>
<circle cx="313.07" cy="62.84" r="0.7" fill="#38a8dc"/>
<circle cx="312.84" cy="42.31" r="0.7" fill="#38a8dc"/>
<circle cx="313.53" cy="46.36" r="0.7" fill="#38a8dc"/>
<circle cx="314.24" cy="55.31" r="0.7" fill="#38a8dc"/>
<circle cx="316.95" cy="54.85" r="0.7" fill="#38a8dc"/>
<circle cx="316.35" cy="63.78" r="0.7" fill="#38a8dc"/>
<circle cx="311.50" cy="59.93" r="0.7" fill="#38a8dc"/>
<circle cx="312.88" cy="44.57" r="0.7" fill="#38a8dc"/>
<circle cx="315.91" cy="49.44" r="0.7" fill="#38a8dc"/>
<circle cx="311.55" cy="40.39" r="0.7" fill="#38a8dc"/>
<circle cx="317.03" cy="60.83" r="0.7" fill="#38a8dc"/>
<circle cx="313.42" cy="60.95" r="0.7" fill="#38a8dc"/>
<circle cx="314.98" cy="56.01" r="0.7" fill="#38a8dc"/>
<circle cx="311.87" cy="54.46" r="0.7" fill="#38a8dc"/>
<circle cx="312.59" cy="67.70" r="0.7" fill="#38a8dc"/>
<circle cx="319.23" cy="70.32" r="0.7" fill="#38a8dc"/>
<circle cx="313.10" cy="40.54" r="0.7" fill="#38a8dc"/>
<circle cx="314.85" cy="70.01" r="0.7" fill="#38a8dc"/>
<circle cx="313.45" cy="48.33" r="0.7" fill="#38a8dc"/>
<circle cx="311.20" cy="46.53" r="0.7" fill="#38a8dc"/>
<circle cx="319.37" cy="56.25" r="0.7" fill="#38a8dc"/>
<circle cx="312.22" cy="44.11" r="0.7" fill="#38a8dc"/>
<circle cx="317.13" cy="67.49" r="0.7" fill="#38a8dc"/>
<circle cx="312.16" cy="47.17" r="0.7" fill="#38a8dc"/>
<circle cx="312.18" cy="40.77" r="0.7" fill="#38a8dc"/>
<circle cx="313.52" cy="53.97" r="0.7" fill="#38a8dc"/>
<circle cx="311.69" cy="44.36" r="0.7" fill="#38a8dc"/>
<circle cx="310.82" cy="66.05" r="0.7" fill="#38a8dc"/>
<circle cx="318.35" cy="63.27" r="0.7" fill="#38a8dc"/>
<circle cx="317.63" cy="43.72" r="0.7" fill="#38a8dc"/>
<circle cx="313.41" cy="67.95" r="0.7" fill="#38a8dc"/>
<circle cx="314.34" cy="51.54" r="0.7" fill="#38a8dc"/>
<circle cx="316.10" cy="70.96" r="0.7" fill="#38a8dc"/>
<circle cx="314.65" cy="51.18" r="0.7" fill="#38a8dc"/>
<circle cx="311.08" cy="48.53" r="0.7" fill="#38a8dc"/>
<circle cx="313.37" cy="65.87" r="0.7" fill="#38a8dc"/>
<circle cx="313.04" cy="69.00" r="0.7" fill="#38a8dc"/>
<circle cx="311.33" cy="48.24" r="0.7" fill="#38a8dc"/>
<circle cx="319.41" cy="51.57" r="0.7" fill="#38a8dc"/>
<circle cx="318.11" cy="67.41" r="0.7" fill="#38a8dc"/>
<circle cx="319.02" cy="59.56" r="0.7" fill="#38a8dc"/>
<circle cx="315.74" cy="69.16" r="0.7" fill="#38a8dc"/>
<circle cx="311.25" cy="62.31" r="0.7" fill="#38a8dc"/>
<circle cx="314.86" cy="62.70" r="0.7" fill="#38a8dc"/>
<circle cx="316.60" cy="63.33" r="0.7" fill="#38a8dc"/>
<circle cx="313.39" cy="48.87" r="0.7" fill="#38a8dc"/>
<circle cx="311.76" cy="43.95" r="0.7" fill="#38a8dc"/>
<circle cx="317.45" cy="49.23" r="0.7" fill="#38a8dc"/>
<circle cx="313.14" cy="70.27" r="0.7" fill="#38a8dc"/>
<circle cx="313.51" cy="60.34" r="0.7" fill="#38a8dc"/>
<circle cx="314.35" cy="57.28" r="0.7" fill="#38a8dc"/>
<circle cx="311.38" cy="45.19" r="0.7" fill="#38a8dc"/>
<circle cx="315.27" cy="68.08" r="0.7" fill="#38a8dc"/>
<circle cx="319.48" cy="46.82" r="0.7" fill="#38a8dc"/>
<circle cx="312.06" cy="53.95" r="0.7" fill="#38a8dc"/>
<circle cx="311.76" cy="45.96" r="0.7" fill="#38a8dc"/>
<circle cx="311.52" cy="42.82" r="0.7" fill="#38a8dc"/>
<circle cx="318.79" cy="57.66" r="0.7" fill="#38a8dc"/>
<circle cx="314.52" cy="63.24" r="0.7" fill="#38a8dc"/>
<circle cx="315.52" cy="52.83" r="0.7" fill="#38a8dc"/>
<circle cx="313.84" cy="51.68" r="0.7" fill="#38a8dc"/>
<circle cx="313.51" cy="41.92" r="0.7" fill="#38a8dc"/>
<circle cx="312.56" cy="43.90" r="0.7" fill="#38a8dc"/>
<circle cx="312.74" cy="66.75" r="0.7" fill="#38a8dc"/>
<circle cx="311.92" cy="48.40" r="0.7" fill="#38a8dc"/>
<circle cx="319.39" cy="53.82" r="0.7" fill="#38a8dc"/>
<circle cx="318.66" cy="66.31" r="0.7" fill="#38a8dc"/>
<circle cx="312.79" cy="40.68" r="0.7" fill="#38a8dc"/>
<circle cx="315.06" cy="67.77" r="0.7" fill="#38a8dc"/>
<circle cx="310.80" cy="58.20" r="0.7" fill="#38a8dc"/>
<circle cx="319.14" cy="52.14" r="0.7" fill="#38a8dc"/>
<circle cx="318.50" cy="65.59" r="0.7" fill="#38a8dc"/>
<circle cx="313.04" cy="70.14" r="0.7" fill="#38a8dc"/>
<circle cx="312.26" cy="43.38" r="0.7" fill="#38a8dc"/>
<circle cx="319.27" cy="61.14" r="0.7" fill="#38a8dc"/>
<circle cx="316.63" cy="62.37" r="0.7" fill="#38a8dc"/>
<circle cx="314.92" cy="63.71" r="0.7" fill="#38a8dc"/>
<circle cx="311.16" cy="57.10" r="0.7" fill="#38a8dc"/>
<circle cx="312.89" cy="64.25" r="0.7" fill="#38a8dc"/>
<circle cx="316.61" cy="68.52" r="0.7" fill="#38a8dc"/>
<circle cx="311.95" cy="49.42" r="0.7" fill="#38a8dc"/>
<circle cx="312.76" cy="47.81" r="0.7" fill="#38a8dc"/>
<circle cx="312.27" cy="43.48" r="0.7" fill="#38a8dc"/>
<circle cx="314.29" cy="58.07" r="0.7" fill="#38a8dc"/>
<circle cx="310.83" cy="46.93" r="0.7" fill="#38a8dc"/>
<circle cx="314.95" cy="49.35" r="0.7" fill="#38a8dc"/>
<circle cx="316.60" cy="69.73" r="0.7" fill="#38a8dc"/>
<circle cx="315.08" cy="67.40" r="0.7" fill="#38a8dc"/>
<circle cx="313.49" cy="47.28" r="0.7" fill="#38a8dc"/>
<circle cx="313.57" cy="61.84" r="0.7" fill="#38a8dc"/>
<circle cx="312.69" cy="40.68" r="0.7" fill="#38a8dc"/>
<circle cx="313.12" cy="53.02" r="0.7" fill="#38a8dc"/>
<circle cx="319.13" cy="60.69" r="0.7" fill="#38a8dc"/>
<circle cx="311.75" cy="47.03" r="0.7" fill="#38a8dc"/>
<circle cx="316.94" cy="53.04" r="0.7" fill="#38a8dc"/>
<circle cx="312.87" cy="46.14" r="0.7" fill="#38a8dc"/>
<circle cx="312.65" cy="55.65" r="0.7" fill="#38a8dc"/>
<circle cx="313.61" cy="70.07" r="0.7" fill="#38a8dc"/>
<circle cx="312.88" cy="65.42" r="0.7" fill="#38a8dc"/>
<circle cx="311.63" cy="46.86" r="0.7" fill="#38a8dc"/>
<circle cx="315.26" cy="69.51" r="0.7" fill="#38a8dc"/>
<circle cx="311.97" cy="45.81" r="0.7" fill="#38a8dc"/>
<circle cx="319.34" cy="60.62" r="0.7" fill="#38a8dc"/>
<circle cx="311.40" cy="44.54" r="0.7" fill="#38a8dc"/>
<circle cx="312.08" cy="70.20" r="0.7" fill="#38a8dc"/>
<circle cx="311.90" cy="41.61" r="0.7" fill="#38a8dc"/>
<circle cx="318.75" cy="67.84" r="0.7" fill="#38a8dc"/>
<circle cx="319.78" cy="62.71" r="0.7" fill="#38a8dc"/>
<circle cx="313.76" cy="68.88" r="0.7" fill="#38a8dc"/>
<circle cx="317.85" cy="45.75" r="0.7" fill="#38a8dc"/>
<circle cx="311.86" cy="40.99" r="0.7" fill="#38a8dc"/>
<circle cx="313.79" cy="51.59" r="0.7" fill="#38a8dc"/>
<circle cx="311.58" cy="45.25" r="0.7" fill="#38a8dc"/>
<circle cx="319.40" cy="50.90" r="0.7" fill="#38a8dc"/>
<circle cx="314.35" cy="43.83" r="0.7" fill="#38a8dc"/>
<circle cx="318.19" cy="51.06" r="0.7" fill="#38a8dc"/>
<circle cx="314.69" cy="65.48" r="0.7" fill="#38a8dc"/>
<circle cx="311.84" cy="41.53" r="0.7" fill="#38a8dc"/>
<circle cx="312.54" cy="68.50" r="0.7" fill="#38a8dc"/>
<circle cx="318.87" cy="51.29" r="0.7" fill="#38a8dc"/>
<circle cx="313.07" cy="40.94" r="0.7" fill="#38a8dc"/>
<circle cx="311.17" cy="63.77" r="0.7" fill="#38a8dc"/>
<circle cx="313.38" cy="41.08" r="0.7" fill="#38a8dc"/>
<circle cx="313.32" cy="47.97" r="0.7" fill="#38a8dc"/>
<circle cx="313.25" cy="50.51" r="0.7" fill="#38a8dc"/>
<circle cx="316.35" cy="69.69" r="0.7" fill="#38a8dc"/>
<circle cx="311.69" cy="48.13" r="0.7" fill="#38a8dc"/>
<circle cx="312.92" cy="48.54" r="0.7" fill="#38a8dc"/>
<circle cx="316.51" cy="68.41" r="0.7" fill="#38a8dc"/>
<circle cx="311.02" cy="69.24" r="0.7" fill="#38a8dc"/>
<circle cx="313.48" cy="47.25" r="0.7" fill="#38a8dc"/>
<circle cx="314.28" cy="69.57" r="0.7" fill="#38a8dc"/>
<circle cx="312.18" cy="47.78" r="0.7" fill="#38a8dc"/>
<circle cx="312.45" cy="68.77" r="0.7" fill="#38a8dc"/>
<circle cx="317.45" cy="64.88" r="0.7" fill="#38a8dc"/>
<circle cx="317.76" cy="65.51" r="0.7" fill="#38a8dc"/>
<circle cx="313.75" cy="58.82" r="0.7" fill="#38a8dc"/>
<circle cx="314.06" cy="49.91" r="0.7" fill="#38a8dc"/>
<circle cx="311.51" cy="64.25" r="0.7" fill="#38a8dc"/>
<circle cx="311.49" cy="46.12" r="0.7" fill="#38a8dc"/>
<circle cx="312.35" cy="42.01" r="0.7" fill="#38a8dc"/>
<circle cx="319.62" cy="50.10" r="0.7" fill="#38a8dc"/>
<circle cx="319.69" cy="67.39" r="0.7" fill="#38a8dc"/>
<circle cx="311.07" cy="48.21" r="0.7" fill="#38a8dc"/>
<circle cx="317.19" cy="55.45" r="0.7" fill="#38a8dc"/>
<circle cx="312.91" cy="53.86" r="0.7" fill="#38a8dc"/>
<circle cx="316.38" cy="52.92" r="0.7" fill="#38a8dc"/>
<circle cx="317.53" cy="60.90" r="0.7" fill="#38a8dc"/>
<circle cx="316.78" cy="66.26" r="0.7" fill="#38a8dc"/>
<rect x="311.00" y="49.00" width="8.60" height="22.00" fill="#40acdc" opacity="0.5"/>
<rect x="311.00" y="40.50" width="2.40" height="9.00" fill="#38a8dc" opacity="0.6"/>
<circle cx="337.78" cy="74.23" r="0.7" fill="#e0107a"/>
<circle cx="335.82" cy="79.15" r="0.7" fill="#e0107a"/>
<circle cx="326.50" cy="72.39" r="0.7" fill="#e0107a"/>
<circle cx="329.87" cy="76.61" r="0.7" fill="#e0107a"/>
<circle cx="340.66" cy="74.61" r="0.7" fill="#e0107a"/>
<circle cx="326.20" cy="75.17" r="0.7" fill="#e0107a"/>
<circle cx="340.82" cy="77.30" r="0.7" fill="#e0107a"/>
<circle cx="331.33" cy="78.87" r="0.7" fill="#e0107a"/>
<circle cx="327.38" cy="82.57" r="0.7" fill="#e0107a"/>
<circle cx="325.40" cy="79.47" r="0.7" fill="#e0107a"/>
<circle cx="324.93" cy="79.96" r="0.7" fill="#e0107a"/>
<circle cx="326.74" cy="80.23" r="0.7" fill="#e0107a"/>
<circle cx="328.04" cy="73.17" r="0.7" fill="#e0107a"/>
<circle cx="333.58" cy="73.37" r="0.7" fill="#e0107a"/>
<circle cx="325.68" cy="77.47" r="0.7" fill="#e0107a"/>
<circle cx="333.19" cy="74.45" r="0.7" fill="#e0107a"/>
<circle cx="328.02" cy="75.32" r="0.7" fill="#e0107a"/>
<circle cx="325.32" cy="73.71" r="0.7" fill="#e0107a"/>
<circle cx="330.53" cy="74.20" r="0.7" fill="#e0107a"/>
<circle cx="329.31" cy="72.89" r="0.7" fill="#e0107a"/>
<circle cx="333.94" cy="75.06" r="0.7" fill="#e0107a"/>
<circle cx="329.59" cy="74.08" r="0.7" fill="#e0107a"/>
<circle cx="327.64" cy="76.86" r="0.7" fill="#e0107a"/>
<circle cx="328.59" cy="73.68" r="0.7" fill="#e0107a"/>
<circle cx="338.22" cy="77.53" r="0.7" fill="#e0107a"/>
<circle cx="335.63" cy="72.41" r="0.7" fill="#e0107a"/>
<circle cx="321.91" cy="77.01" r="0.7" fill="#e0107a"/>
<circle cx="330.32" cy="81.77" r="0.7" fill="#e0107a"/>
<circle cx="324.89" cy="78.63" r="0.7" fill="#e0107a"/>
<circle cx="332.28" cy="79.95" r="0.7" fill="#e0107a"/>
<circle cx="333.62" cy="81.63" r="0.7" fill="#e0107a"/>
<circle cx="331.38" cy="75.03" r="0.7" fill="#e0107a"/>
<circle cx="339.38" cy="75.86" r="0.7" fill="#e0107a"/>
<circle cx="331.12" cy="77.15" r="0.7" fill="#e0107a"/>
<circle cx="324.21" cy="85.81" r="0.7" fill="#e0107a"/>
<circle cx="337.69" cy="73.27" r="0.7" fill="#e0107a"/>
<circle cx="339.40" cy="81.38" r="0.7" fill="#e0107a"/>
<circle cx="337.47" cy="80.01" r="0.7" fill="#e0107a"/>
<circle cx="336.73" cy="73.28" r="0.7" fill="#e0107a"/>
<circle cx="335.84" cy="73.97" r="0.7" fill="#e0107a"/>
<circle cx="329.40" cy="75.37" r="0.7" fill="#e0107a"/>
<circle cx="329.09" cy="75.27" r="0.7" fill="#e0107a"/>
<circle cx="338.85" cy="75.19" r="0.7" fill="#e0107a"/>
<circle cx="332.48" cy="72.37" r="0.7" fill="#e0107a"/>
<circle cx="325.70" cy="77.80" r="0.7" fill="#e0107a"/>
<circle cx="333.71" cy="77.32" r="0.7" fill="#e0107a"/>
<circle cx="329.78" cy="77.33" r="0.7" fill="#e0107a"/>
<circle cx="330.29" cy="75.17" r="0.7" fill="#e0107a"/>
<circle cx="322.24" cy="76.98" r="0.7" fill="#e0107a"/>
<circle cx="336.31" cy="76.63" r="0.7" fill="#e0107a"/>
<circle cx="330.31" cy="73.20" r="0.7" fill="#e0107a"/>
<circle cx="323.83" cy="76.34" r="0.7" fill="#e0107a"/>
<circle cx="330.20" cy="76.52" r="0.7" fill="#e0107a"/>
<circle cx="322.57" cy="73.79" r="0.7" fill="#e0107a"/>
<circle cx="336.58" cy="74.02" r="0.7" fill="#e0107a"/>
<circle cx="322.83" cy="77.66" r="0.7" fill="#e0107a"/>
<circle cx="322.14" cy="79.41" r="0.7" fill="#e0107a"/>
<circle cx="342.65" cy="73.43" r="0.7" fill="#e0107a"/>
<circle cx="340.45" cy="82.34" r="0.7" fill="#e0107a"/>
<circle cx="339.98" cy="75.15" r="0.7" fill="#e0107a"/>
<circle cx="326.03" cy="74.14" r="0.7" fill="#e0107a"/>
<circle cx="336.17" cy="73.16" r="0.7" fill="#e0107a"/>
<circle cx="338.83" cy="73.88" r="0.7" fill="#e0107a"/>
<circle cx="331.34" cy="82.29" r="0.7" fill="#e0107a"/>
<circle cx="324.63" cy="76.45" r="0.7" fill="#e0107a"/>
<circle cx="327.86" cy="75.69" r="0.7" fill="#e0107a"/>
<circle cx="339.59" cy="73.10" r="0.7" fill="#e0107a"/>
<circle cx="338.81" cy="77.01" r="0.7" fill="#e0107a"/>
<circle cx="331.88" cy="80.71" r="0.7" fill="#e0107a"/>
<circle cx="328.64" cy="77.19" r="0.7" fill="#e0107a"/>
<circle cx="338.57" cy="77.31" r="0.7" fill="#e0107a"/>
<circle cx="340.67" cy="76.08" r="0.7" fill="#e0107a"/>
<circle cx="332.01" cy="73.85" r="0.7" fill="#e0107a"/>
<circle cx="329.96" cy="73.52" r="0.7" fill="#e0107a"/>
<circle cx="322.72" cy="74.09" r="0.7" fill="#e0107a"/>
<circle cx="340.50" cy="76.11" r="0.7" fill="#e0107a"/>
<circle cx="334.41" cy="72.43" r="0.7" fill="#e0107a"/>
<circle cx="324.64" cy="72.60" r="0.7" fill="#e0107a"/>
<circle cx="330.01" cy="83.95" r="0.7" fill="#e0107a"/>
<circle cx="326.12" cy="73.23" r="0.7" fill="#e0107a"/>
<circle cx="322.22" cy="77.45" r="0.7" fill="#e0107a"/>
<circle cx="328.59" cy="72.38" r="0.7" fill="#e0107a"/>
<circle cx="332.89" cy="75.45" r="0.7" fill="#e0107a"/>
<circle cx="330.82" cy="74.27" r="0.7" fill="#e0107a"/>
<circle cx="339.60" cy="72.43" r="0.7" fill="#e0107a"/>
<circle cx="333.93" cy="75.43" r="0.7" fill="#e0107a"/>
<circle cx="324.65" cy="77.76" r="0.7" fill="#e0107a"/>
<circle cx="322.02" cy="76.64" r="0.7" fill="#e0107a"/>
<circle cx="334.07" cy="77.89" r="0.7" fill="#e0107a"/>
<circle cx="339.61" cy="72.73" r="0.7" fill="#e0107a"/>
<circle cx="332.33" cy="78.82" r="0.7" fill="#e0107a"/>
<circle cx="326.32" cy="74.15" r="0.7" fill="#e0107a"/>
<circle cx="336.60" cy="79.24" r="0.7" fill="#e0107a"/>
<circle cx="323.17" cy="74.60" r="0.7" fill="#e0107a"/>
<circle cx="331.43" cy="75.16" r="0.7" fill="#e0107a"/>
<circle cx="337.25" cy="74.46" r="0.7" fill="#e0107a"/>
<circle cx="322.72" cy="76.51" r="0.7" fill="#e0107a"/>
<circle cx="326.37" cy="80.83" r="0.7" fill="#e0107a"/>
<circle cx="337.84" cy="72.49" r="0.7" fill="#e0107a"/>
<circle cx="330.40" cy="78.45" r="0.7" fill="#e0107a"/>
<circle cx="323.80" cy="72.47" r="0.7" fill="#e0107a"/>
<circle cx="336.04" cy="73.84" r="0.7" fill="#e0107a"/>
<circle cx="337.86" cy="73.33" r="0.7" fill="#e0107a"/>
<circle cx="330.09" cy="76.50" r="0.7" fill="#e0107a"/>
<circle cx="332.68" cy="72.93" r="0.7" fill="#e0107a"/>
<circle cx="340.14" cy="74.63" r="0.7" fill="#e0107a"/>
<circle cx="326.75" cy="83.38" r="0.7" fill="#e0107a"/>
<circle cx="335.93" cy="80.86" r="0.7" fill="#e0107a"/>
<circle cx="338.52" cy="75.40" r="0.7" fill="#e0107a"/>
<circle cx="326.34" cy="78.79" r="0.7" fill="#e0107a"/>
<circle cx="334.44" cy="76.56" r="0.7" fill="#e0107a"/>
<circle cx="348.10" cy="74.30" r="0.7" fill="#e0107a"/>
<circle cx="338.09" cy="80.45" r="0.7" fill="#e0107a"/>
<circle cx="327.65" cy="75.69" r="0.7" fill="#e0107a"/>
<circle cx="333.63" cy="82.98" r="0.7" fill="#e0107a"/>
<circle cx="322.31" cy="77.98" r="0.7" fill="#e0107a"/>
<circle cx="339.45" cy="74.01" r="0.7" fill="#e0107a"/>
<circle cx="322.59" cy="74.82" r="0.7" fill="#e0107a"/>
<circle cx="333.84" cy="75.24" r="0.7" fill="#e0107a"/>
<circle cx="333.02" cy="80.79" r="0.7" fill="#e0107a"/>
<circle cx="337.33" cy="77.20" r="0.7" fill="#e0107a"/>
<circle cx="338.29" cy="82.80" r="0.7" fill="#e0107a"/>
<circle cx="328.06" cy="73.20" r="0.7" fill="#e0107a"/>
<circle cx="323.93" cy="82.72" r="0.7" fill="#e0107a"/>
<circle cx="327.63" cy="79.13" r="0.7" fill="#e0107a"/>
<circle cx="327.26" cy="79.97" r="0.7" fill="#e0107a"/>
<circle cx="323.66" cy="72.47" r="0.7" fill="#e0107a"/>
<circle cx="329.85" cy="76.02" r="0.7" fill="#e0107a"/>
<circle cx="326.68" cy="74.07" r="0.7" fill="#e0107a"/>
<circle cx="327.90" cy="80.84" r="0.7" fill="#e0107a"/>
<circle cx="322.39" cy="77.33" r="0.7" fill="#e0107a"/>
<circle cx="329.60" cy="77.21" r="0.7" fill="#e0107a"/>
<circle cx="325.91" cy="79.35" r="0.7" fill="#e0107a"/>
<circle cx="343.61" cy="77.80" r="0.7" fill="#e0107a"/>
<circle cx="321.82" cy="75.07" r="0.7" fill="#e0107a"/>
<circle cx="344.46" cy="78.69" r="0.7" fill="#e0107a"/>
<circle cx="336.94" cy="72.48" r="0.7" fill="#e0107a"/>
<circle cx="331.20" cy="78.25" r="0.7" fill="#e0107a"/>
<circle cx="339.73" cy="80.81" r="0.7" fill="#e0107a"/>
<circle cx="325.88" cy="74.32" r="0.7" fill="#e0107a"/>
<circle cx="333.89" cy="78.44" r="0.7" fill="#e0107a"/>
<circle cx="336.77" cy="75.45" r="0.7" fill="#e0107a"/>
<circle cx="328.56" cy="81.44" r="0.7" fill="#e0107a"/>
<circle cx="329.30" cy="74.10" r="0.7" fill="#e0107a"/>
<circle cx="325.58" cy="75.99" r="0.7" fill="#e0107a"/>
<circle cx="338.92" cy="72.89" r="0.7" fill="#e0107a"/>
<circle cx="329.01" cy="75.29" r="0.7" fill="#e0107a"/>
<circle cx="331.90" cy="74.97" r="0.7" fill="#e0107a"/>
<circle cx="322.18" cy="80.23" r="0.7" fill="#e0107a"/>
<circle cx="328.01" cy="78.23" r="0.7" fill="#e0107a"/>
<circle cx="335.90" cy="81.07" r="0.7" fill="#e0107a"/>
<circle cx="330.14" cy="73.36" r="0.7" fill="#e0107a"/>
<circle cx="330.58" cy="79.46" r="0.7" fill="#e0107a"/>
<circle cx="322.49" cy="75.88" r="0.7" fill="#e0107a"/>
<circle cx="335.16" cy="74.07" r="0.7" fill="#e0107a"/>
<circle cx="326.50" cy="74.95" r="0.7" fill="#e0107a"/>
<circle cx="331.72" cy="74.90" r="0.7" fill="#e0107a"/>
<circle cx="340.33" cy="76.46" r="0.7" fill="#e0107a"/>
<circle cx="323.73" cy="74.78" r="0.7" fill="#e0107a"/>
<circle cx="340.49" cy="72.90" r="0.7" fill="#e0107a"/>
<circle cx="323.37" cy="78.14" r="0.7" fill="#e0107a"/>
<circle cx="333.92" cy="75.23" r="0.7" fill="#e0107a"/>
<circle cx="322.44" cy="74.63" r="0.7" fill="#e0107a"/>
<circle cx="336.83" cy="74.55" r="0.7" fill="#e0107a"/>
<circle cx="330.60" cy="78.38" r="0.7" fill="#e0107a"/>
<circle cx="333.27" cy="79.77" r="0.7" fill="#e0107a"/>
<circle cx="334.77" cy="78.80" r="0.7" fill="#e0107a"/>
<circle cx="329.80" cy="75.36" r="0.7" fill="#e0107a"/>
<circle cx="335.52" cy="79.22" r="0.7" fill="#e0107a"/>
<circle cx="338.00" cy="78.79" r="0.7" fill="#e0107a"/>
<circle cx="333.99" cy="76.87" r="0.7" fill="#e0107a"/>
<circle cx="323.66" cy="73.66" r="0.7" fill="#e0107a"/>
<circle cx="336.67" cy="74.08" r="0.7" fill="#e0107a"/>
<circle cx="329.85" cy="79.84" r="0.7" fill="#e0107a"/>
<circle cx="333.61" cy="79.25" r="0.7" fill="#e0107a"/>
<circle cx="333.12" cy="75.57" r="0.7" fill="#e0107a"/>
<circle cx="340.43" cy="77.18" r="0.7" fill="#e0107a"/>
<circle cx="332.25" cy="78.99" r="0.7" fill="#e0107a"/>
<circle cx="336.65" cy="73.93" r="0.7" fill="#e0107a"/>
<circle cx="328.22" cy="72.61" r="0.7" fill="#e0107a"/>
<circle cx="332.08" cy="73.64" r="0.7" fill="#e0107a"/>
<circle cx="337.55" cy="78.75" r="0.7" fill="#e0107a"/>
<circle cx="329.60" cy="75.88" r="0.7" fill="#e0107a"/>
<circle cx="329.26" cy="73.51" r="0.7" fill="#e0107a"/>
<circle cx="322.88" cy="73.15" r="0.7" fill="#e0107a"/>
<circle cx="329.75" cy="77.79" r="0.7" fill="#e0107a"/>
<circle cx="335.07" cy="74.88" r="0.7" fill="#e0107a"/>
<circle cx="335.89" cy="75.76" r="0.7" fill="#e0107a"/>
<circle cx="331.50" cy="72.95" r="0.7" fill="#e0107a"/>
<circle cx="329.32" cy="74.68" r="0.7" fill="#e0107a"/>
<circle cx="336.56" cy="75.15" r="0.7" fill="#e0107a"/>
<circle cx="332.48" cy="79.56" r="0.7" fill="#e0107a"/>
<circle cx="340.11" cy="77.04" r="0.7" fill="#e0107a"/>
<circle cx="337.73" cy="74.80" r="0.7" fill="#e0107a"/>
<circle cx="332.22" cy="77.95" r="0.7" fill="#e0107a"/>
<circle cx="337.64" cy="78.86" r="0.7" fill="#e0107a"/>
<circle cx="328.95" cy="80.79" r="0.7" fill="#e0107a"/>
<circle cx="329.90" cy="72.46" r="0.7" fill="#e0107a"/>
<circle cx="327.14" cy="72.67" r="0.7" fill="#e0107a"/>
<circle cx="327.53" cy="78.07" r="0.7" fill="#e0107a"/>
<circle cx="334.33" cy="73.05" r="0.7" fill="#e0107a"/>
<circle cx="339.45" cy="73.45" r="0.7" fill="#e0107a"/>
<circle cx="325.60" cy="80.29" r="0.7" fill="#e0107a"/>
<circle cx="337.60" cy="77.67" r="0.7" fill="#e0107a"/>
<circle cx="322.08" cy="85.81" r="0.7" fill="#e0107a"/>
<circle cx="326.55" cy="73.28" r="0.7" fill="#e0107a"/>
<circle cx="324.51" cy="73.28" r="0.7" fill="#e0107a"/>
<circle cx="324.70" cy="81.77" r="0.7" fill="#e0107a"/>
<circle cx="324.00" cy="75.52" r="0.7" fill="#e0107a"/>
<circle cx="340.77" cy="78.34" r="0.7" fill="#e0107a"/>
<circle cx="338.78" cy="74.79" r="0.7" fill="#e0107a"/>
<circle cx="334.96" cy="82.51" r="0.7" fill="#e0107a"/>
<circle cx="335.90" cy="82.85" r="0.7" fill="#e0107a"/>
<circle cx="326.83" cy="76.59" r="0.7" fill="#e0107a"/>
<circle cx="324.45" cy="74.21" r="0.7" fill="#e0107a"/>
<circle cx="324.54" cy="72.38" r="0.7" fill="#e0107a"/>
<circle cx="331.27" cy="82.93" r="0.7" fill="#e0107a"/>
<circle cx="337.77" cy="75.00" r="0.7" fill="#e0107a"/>
<circle cx="332.49" cy="77.65" r="0.7" fill="#e0107a"/>
<circle cx="329.76" cy="81.38" r="0.7" fill="#e0107a"/>
<circle cx="339.54" cy="75.87" r="0.7" fill="#e0107a"/>
<circle cx="322.34" cy="78.73" r="0.7" fill="#e0107a"/>
<circle cx="335.29" cy="79.83" r="0.7" fill="#e0107a"/>
<circle cx="331.01" cy="85.91" r="0.7" fill="#e0107a"/>
<circle cx="343.58" cy="74.15" r="0.7" fill="#e0107a"/>
<circle cx="328.23" cy="75.69" r="0.7" fill="#e0107a"/>
<circle cx="331.79" cy="76.31" r="0.7" fill="#e0107a"/>
<circle cx="325.46" cy="78.00" r="0.7" fill="#e0107a"/>
<circle cx="332.33" cy="74.42" r="0.7" fill="#e0107a"/>
<circle cx="332.13" cy="77.66" r="0.7" fill="#e0107a"/>
<circle cx="331.42" cy="76.00" r="0.7" fill="#e0107a"/>
<circle cx="335.80" cy="80.35" r="0.7" fill="#e0107a"/>
<circle cx="327.82" cy="74.52" r="0.7" fill="#e0107a"/>
<circle cx="336.70" cy="79.26" r="0.7" fill="#e0107a"/>
<circle cx="335.53" cy="77.50" r="0.7" fill="#e0107a"/>
<circle cx="327.51" cy="76.85" r="0.7" fill="#e0107a"/>
<circle cx="325.41" cy="78.93" r="0.7" fill="#e0107a"/>
<circle cx="336.79" cy="75.87" r="0.7" fill="#e0107a"/>
<circle cx="336.60" cy="77.22" r="0.7" fill="#e0107a"/>
<circle cx="335.03" cy="79.14" r="0.7" fill="#e0107a"/>
<circle cx="334.47" cy="77.03" r="0.7" fill="#e0107a"/>
<circle cx="336.29" cy="75.10" r="0.7" fill="#e0107a"/>
<circle cx="336.52" cy="74.37" r="0.7" fill="#e0107a"/>
<circle cx="329.30" cy="76.68" r="0.7" fill="#e0107a"/>
<circle cx="325.89" cy="79.18" r="0.7" fill="#e0107a"/>
<circle cx="327.54" cy="76.55" r="0.7" fill="#e0107a"/>
<circle cx="333.99" cy="74.57" r="0.7" fill="#e0107a"/>
<circle cx="338.87" cy="74.70" r="0.7" fill="#e0107a"/>
<circle cx="324.06" cy="74.96" r="0.7" fill="#e0107a"/>
<circle cx="338.82" cy="73.18" r="0.7" fill="#e0107a"/>
<circle cx="333.05" cy="72.61" r="0.7" fill="#e0107a"/>
<circle cx="337.59" cy="73.05" r="0.7" fill="#e0107a"/>
<circle cx="323.74" cy="74.64" r="0.7" fill="#e0107a"/>
<circle cx="322.10" cy="75.29" r="0.7" fill="#e0107a"/>
<circle cx="334.79" cy="82.64" r="0.7" fill="#e0107a"/>
<circle cx="338.32" cy="82.22" r="0.7" fill="#e0107a"/>
<circle cx="322.14" cy="73.08" r="0.7" fill="#e0107a"/>
<circle cx="325.36" cy="76.32" r="0.7" fill="#e0107a"/>
<circle cx="336.51" cy="74.76" r="0.7" fill="#e0107a"/>
<circle cx="323.40" cy="82.84" r="0.7" fill="#e0107a"/>
<circle cx="335.28" cy="84.68" r="0.7" fill="#e0107a"/>
<circle cx="340.12" cy="75.43" r="0.7" fill="#e0107a"/>
<circle cx="322.02" cy="80.24" r="0.7" fill="#e0107a"/>
<circle cx="323.68" cy="76.47" r="0.7" fill="#e0107a"/>
<circle cx="324.95" cy="74.58" r="0.7" fill="#e0107a"/>
<circle cx="326.70" cy="72.47" r="0.7" fill="#e0107a"/>
<circle cx="332.72" cy="79.96" r="0.7" fill="#e0107a"/>
<circle cx="336.95" cy="75.40" r="0.7" fill="#e0107a"/>
<circle cx="334.05" cy="76.22" r="0.7" fill="#e0107a"/>
<circle cx="336.74" cy="76.46" r="0.7" fill="#e0107a"/>
<circle cx="325.71" cy="79.25" r="0.7" fill="#e0107a"/>
<circle cx="322.95" cy="80.76" r="0.7" fill="#e0107a"/>
<circle cx="325.36" cy="76.00" r="0.7" fill="#e0107a"/>
<circle cx="338.42" cy="75.95" r="0.7" fill="#e0107a"/>
<circle cx="329.94" cy="78.81" r="0.7" fill="#e0107a"/>
<circle cx="337.00" cy="78.15" r="0.7" fill="#e0107a"/>
<circle cx="338.83" cy="73.89" r="0.7" fill="#e0107a"/>
<circle cx="326.80" cy="76.50" r="0.7" fill="#e0107a"/>
<circle cx="332.95" cy="76.93" r="0.7" fill="#e0107a"/>
<circle cx="337.63" cy="82.82" r="0.7" fill="#e0107a"/>
<circle cx="334.05" cy="77.61" r="0.7" fill="#e0107a"/>
<circle cx="337.97" cy="75.23" r="0.7" fill="#e0107a"/>
<circle cx="341.72" cy="73.63" r="0.7" fill="#e0107a"/>
<circle cx="336.95" cy="74.20" r="0.7" fill="#e0107a"/>
<circle cx="336.05" cy="75.95" r="0.7" fill="#e0107a"/>
<circle cx="334.68" cy="73.97" r="0.7" fill="#e0107a"/>
<circle cx="325.73" cy="72.57" r="0.7" fill="#e0107a"/>
<circle cx="345.14" cy="74.58" r="0.7" fill="#e0107a"/>
<circle cx="323.30" cy="72.86" r="0.7" fill="#e0107a"/>
<circle cx="338.84" cy="76.27" r="0.7" fill="#e0107a"/>
<circle cx="337.58" cy="73.16" r="0.7" fill="#e0107a"/>
<circle cx="325.39" cy="73.53" r="0.7" fill="#e0107a"/>
<circle cx="328.69" cy="75.55" r="0.7" fill="#e0107a"/>
<circle cx="329.45" cy="75.41" r="0.7" fill="#e0107a"/>
<circle cx="340.75" cy="72.64" r="0.7" fill="#e0107a"/>
<circle cx="323.82" cy="78.80" r="0.7" fill="#e0107a"/>
<circle cx="333.15" cy="79.47" r="0.7" fill="#e0107a"/>
<circle cx="331.67" cy="73.73" r="0.7" fill="#e0107a"/>
<circle cx="322.27" cy="76.53" r="0.7" fill="#e0107a"/>
<circle cx="326.77" cy="77.03" r="0.7" fill="#e0107a"/>
<circle cx="336.90" cy="85.15" r="0.7" fill="#e0107a"/>
<circle cx="322.52" cy="73.35" r="0.7" fill="#e0107a"/>
<circle cx="322.77" cy="75.61" r="0.7" fill="#e0107a"/>
<circle cx="338.34" cy="85.18" r="0.7" fill="#e0107a"/>
<circle cx="330.60" cy="79.13" r="0.7" fill="#e0107a"/>
<circle cx="324.08" cy="75.21" r="0.7" fill="#e0107a"/>
<circle cx="322.62" cy="79.38" r="0.7" fill="#e0107a"/>
<circle cx="339.97" cy="74.96" r="0.7" fill="#e0107a"/>
<circle cx="324.83" cy="77.11" r="0.7" fill="#e0107a"/>
<circle cx="331.70" cy="72.50" r="0.7" fill="#e0107a"/>
<circle cx="326.66" cy="79.40" r="0.7" fill="#e0107a"/>
<circle cx="346.03" cy="73.19" r="0.7" fill="#e0107a"/>
<circle cx="325.51" cy="74.29" r="0.7" fill="#e0107a"/>
<circle cx="341.35" cy="75.19" r="0.7" fill="#e0107a"/>
<circle cx="324.49" cy="79.97" r="0.7" fill="#e0107a"/>
<circle cx="333.04" cy="75.37" r="0.7" fill="#e0107a"/>
<path d="M321.8,72.4 L338,72.4 C342,74 342,80 336,83 C330,85 324,85 321.8,84 Z" stroke="none" fill="#e0107a" stroke-width="1" opacity="0.5"/>
<path d="M310.6,81 L310.6,62 C310.6,55.5 314.8,55.5 314.8,62 L314.8,81" stroke="#1b3566" fill="none" stroke-width="1.1"/>
<ellipse cx="312.2" cy="80.7" rx="7.2" ry="6.4" fill="none" stroke="#666" stroke-width="0.6"/>
<ellipse cx="312.4" cy="80.9" rx="5.6" ry="5.0" fill="#111"/>
<ellipse cx="311.8" cy="80.5" rx="2.6" ry="2.2" fill="none" stroke="#555" stroke-width="0.5"/>
<ellipse cx="328.8" cy="80.4" rx="6.8" ry="2.7" fill="#a00a55" stroke="#5a0630" stroke-width="1"/>
<ellipse cx="328.8" cy="80.4" rx="3" ry="1.2" fill="none" stroke="#5a0630" stroke-width="0.6"/>
<line x1="304.20" y1="38.50" x2="304.20" y2="89.80" stroke="#222" stroke-width="1.3"/>
<line x1="303.60" y1="89.20" x2="350.40" y2="89.20" stroke="#222" stroke-width="1.3"/>
<line x1="320.80" y1="38.00" x2="320.80" y2="89.20" stroke="#222" stroke-width="1.3"/>
<line x1="304.20" y1="71.20" x2="350.40" y2="71.20" stroke="#222" stroke-width="1.3"/>
<line x1="301.50" y1="81.00" x2="304.20" y2="81.00" stroke="#222" stroke-width="1.1"/>
<text x="300.00" y="83.52" font-size="7" fill="#262626" text-anchor="end" textLength="14.50" lengthAdjust="spacingAndGlyphs" stroke="#262626" stroke-width="0.08">1.00</text>
<line x1="301.50" y1="70.88" x2="304.20" y2="70.88" stroke="#222" stroke-width="1.1"/>
<text x="300.00" y="73.39" font-size="7" fill="#262626" text-anchor="end" textLength="14.50" lengthAdjust="spacingAndGlyphs" stroke="#262626" stroke-width="0.08">1.05</text>
<line x1="301.50" y1="60.75" x2="304.20" y2="60.75" stroke="#222" stroke-width="1.1"/>
<text x="300.00" y="63.27" font-size="7" fill="#262626" text-anchor="end" textLength="14.50" lengthAdjust="spacingAndGlyphs" stroke="#262626" stroke-width="0.08">1.10</text>
<line x1="301.50" y1="50.63" x2="304.20" y2="50.63" stroke="#222" stroke-width="1.1"/>
<text x="300.00" y="53.15" font-size="7" fill="#262626" text-anchor="end" textLength="14.50" lengthAdjust="spacingAndGlyphs" stroke="#262626" stroke-width="0.08">1.15</text>
<line x1="301.50" y1="40.50" x2="304.20" y2="40.50" stroke="#222" stroke-width="1.1"/>
<text x="300.00" y="43.02" font-size="7" fill="#262626" text-anchor="end" textLength="14.50" lengthAdjust="spacingAndGlyphs" stroke="#262626" stroke-width="0.08">1.20</text>
<line x1="311.50" y1="89.20" x2="311.50" y2="91.60" stroke="#222" stroke-width="1.1"/>
<line x1="320.75" y1="89.20" x2="320.75" y2="91.60" stroke="#222" stroke-width="1.1"/>
<line x1="330.00" y1="89.20" x2="330.00" y2="91.60" stroke="#222" stroke-width="1.1"/>
<line x1="339.25" y1="89.20" x2="339.25" y2="91.60" stroke="#222" stroke-width="1.1"/>
<line x1="348.50" y1="89.20" x2="348.50" y2="91.60" stroke="#222" stroke-width="1.1"/>
<text x="311.50" y="102.22" font-size="7" fill="#262626" text-anchor="middle" textLength="14.50" lengthAdjust="spacingAndGlyphs" stroke="#262626" stroke-width="0.08">1.00</text>
<text x="330.00" y="102.22" font-size="7" fill="#262626" text-anchor="middle" textLength="14.50" lengthAdjust="spacingAndGlyphs" stroke="#262626" stroke-width="0.08">1.10</text>
<text x="348.50" y="102.22" font-size="7" fill="#262626" text-anchor="middle" textLength="14.50" lengthAdjust="spacingAndGlyphs" stroke="#262626" stroke-width="0.08">1.20</text>
<line x1="388.80" y1="36.10" x2="388.80" y2="76.80" stroke="#222" stroke-width="1.3"/>
<line x1="385.30" y1="74.10" x2="388.80" y2="74.10" stroke="#222" stroke-width="1.1"/>
<text x="382.60" y="76.69" font-size="7.2" fill="#262626" text-anchor="end" textLength="5.40" lengthAdjust="spacingAndGlyphs" stroke="#262626" stroke-width="0.08">0</text>
<line x1="385.30" y1="65.38" x2="388.80" y2="65.38" stroke="#222" stroke-width="1.1"/>
<text x="382.60" y="67.97" font-size="7.2" fill="#262626" text-anchor="end" textLength="8.00" lengthAdjust="spacingAndGlyphs" stroke="#262626" stroke-width="0.08">25</text>
<line x1="385.30" y1="56.65" x2="388.80" y2="56.65" stroke="#222" stroke-width="1.1"/>
<text x="382.60" y="59.24" font-size="7.2" fill="#262626" text-anchor="end" textLength="8.00" lengthAdjust="spacingAndGlyphs" stroke="#262626" stroke-width="0.08">50</text>
<line x1="385.30" y1="47.92" x2="388.80" y2="47.92" stroke="#222" stroke-width="1.1"/>
<text x="382.60" y="50.52" font-size="7.2" fill="#262626" text-anchor="end" textLength="8.00" lengthAdjust="spacingAndGlyphs" stroke="#262626" stroke-width="0.08">75</text>
<line x1="385.30" y1="39.20" x2="388.80" y2="39.20" stroke="#222" stroke-width="1.1"/>
<text x="382.60" y="41.79" font-size="7.2" fill="#262626" text-anchor="end" textLength="11.40" lengthAdjust="spacingAndGlyphs" stroke="#262626" stroke-width="0.08">100</text>
<line x1="388.20" y1="76.30" x2="436.70" y2="76.30" stroke="#222" stroke-width="1.3"/>
<line x1="389.90" y1="76.30" x2="389.90" y2="78.80" stroke="#222" stroke-width="1.1"/>
<line x1="403.40" y1="76.30" x2="403.40" y2="78.80" stroke="#222" stroke-width="1.1"/>
<line x1="412.50" y1="76.30" x2="412.50" y2="78.80" stroke="#222" stroke-width="1.1"/>
<line x1="421.70" y1="76.30" x2="421.70" y2="78.80" stroke="#222" stroke-width="1.1"/>
<line x1="430.80" y1="76.30" x2="430.80" y2="78.80" stroke="#222" stroke-width="1.1"/>
<text transform="translate(392.95,82.90) rotate(-90)" font-size="6.8" fill="#262626" text-anchor="end" textLength="29.60" lengthAdjust="spacingAndGlyphs" stroke="#262626" stroke-width="0.08">Screening</text>
<text transform="translate(402.45,82.40) rotate(-90)" font-size="6.8" fill="#262626" text-anchor="end" textLength="23.60" lengthAdjust="spacingAndGlyphs" stroke="#262626" stroke-width="0.08">Lead-in</text>
<text transform="translate(411.75,84.00) rotate(-90)" font-size="6.8" fill="#262626" text-anchor="end" textLength="7.00" lengthAdjust="spacingAndGlyphs" stroke="#262626" stroke-width="0.08">C1</text>
<text transform="translate(421.95,83.50) rotate(-90)" font-size="6.8" fill="#262626" text-anchor="end" textLength="8.50" lengthAdjust="spacingAndGlyphs" stroke="#262626" stroke-width="0.08">UC</text>
<text transform="translate(431.65,83.00) rotate(-90)" font-size="6.8" fill="#262626" text-anchor="end" textLength="8.50" lengthAdjust="spacingAndGlyphs" stroke="#262626" stroke-width="0.08">C2</text>
<text transform="translate(366.38,56.60) rotate(-90)" font-size="9.4" fill="#262626" text-anchor="middle" textLength="20.50" lengthAdjust="spacingAndGlyphs" stroke="#262626" stroke-width="0.08">% HSC</text>
<path d="M394.2,61.8 L403.4,56.5 L412.5,67.8 L421.7,67.8 L430.8,60.8" stroke="#40a8d0" fill="none" stroke-width="1.1"/>
<path d="M394.2,58.1 L403.4,61.3 L412.5,58.8 L421.7,67.8 L430.8,64.5" stroke="#d0207a" fill="none" stroke-width="1.1"/>
<circle cx="394.20" cy="61.80" r="1.1" fill="#40a8d0"/>
<circle cx="403.40" cy="56.50" r="1.1" fill="#40a8d0"/>
<circle cx="412.50" cy="67.80" r="1.1" fill="#40a8d0"/>
<circle cx="421.70" cy="67.80" r="1.1" fill="#40a8d0"/>
<circle cx="430.80" cy="60.80" r="1.1" fill="#40a8d0"/>
<circle cx="394.20" cy="58.10" r="1.1" fill="#d0207a"/>
<circle cx="403.40" cy="61.30" r="1.1" fill="#d0207a"/>
<circle cx="412.50" cy="58.80" r="1.1" fill="#d0207a"/>
<circle cx="421.70" cy="67.80" r="1.1" fill="#d0207a"/>
<circle cx="430.80" cy="64.50" r="1.1" fill="#d0207a"/>
<text x="42.20" y="171.70" font-size="12" fill="#111" font-weight="bold">D</text>
<text x="91.70" y="220.12" font-size="7" fill="#262626" text-anchor="end" textLength="12.60" lengthAdjust="spacingAndGlyphs" stroke="#262626" stroke-width="0.08">HSC</text>
<text x="91.70" y="230.02" font-size="7" fill="#262626" text-anchor="end" textLength="17.10" lengthAdjust="spacingAndGlyphs" stroke="#262626" stroke-width="0.08">LMPP</text>
<text x="91.70" y="239.92" font-size="7" fill="#262626" text-anchor="end" textLength="15.00" lengthAdjust="spacingAndGlyphs" stroke="#262626" stroke-width="0.08">GMP</text>
<text x="50.90" y="249.92" font-size="7" fill="#262626" textLength="17.60" lengthAdjust="spacingAndGlyphs" stroke="#262626" stroke-width="0.08">CD14</text>
<text x="69.40" y="244.70" font-size="5" fill="#262626" stroke="#262626" stroke-width="0.08">+</text>
<text x="91.70" y="249.92" font-size="7" fill="#262626" text-anchor="end" textLength="17.70" lengthAdjust="spacingAndGlyphs" stroke="#262626" stroke-width="0.08">Mono</text>
<text x="50.90" y="259.92" font-size="7" fill="#262626" textLength="17.60" lengthAdjust="spacingAndGlyphs" stroke="#262626" stroke-width="0.08">CD16</text>
<text x="69.40" y="254.70" font-size="5" fill="#262626" stroke="#262626" stroke-width="0.08">+</text>
<text x="91.70" y="259.92" font-size="7" fill="#262626" text-anchor="end" textLength="17.70" lengthAdjust="spacingAndGlyphs" stroke="#262626" stroke-width="0.08">Mono</text>
<text x="88.35" y="182.36" font-size="9.6" fill="#2f5585" text-anchor="middle" textLength="39.70" lengthAdjust="spacingAndGlyphs" stroke="#2f5585" stroke-width="0.08">AML1006</text>
<text transform="translate(78.60,199.00) rotate(-90)" font-size="8.6" fill="#262626" text-anchor="middle" textLength="25.00" lengthAdjust="spacingAndGlyphs" stroke="#262626" stroke-width="0.08">% blasts</text>
<line x1="95.20" y1="187.70" x2="95.20" y2="206.20" stroke="#222" stroke-width="1.2"/>
<line x1="92.00" y1="190.30" x2="95.20" y2="190.30" stroke="#222" stroke-width="1"/>
<text x="91.20" y="192.89" font-size="7.2" fill="#262626" text-anchor="end" textLength="7.50" lengthAdjust="spacingAndGlyphs" stroke="#262626" stroke-width="0.08">10</text>
<line x1="92.00" y1="197.90" x2="95.20" y2="197.90" stroke="#222" stroke-width="1"/>
<text x="91.20" y="200.49" font-size="7.2" fill="#262626" text-anchor="end" textLength="3.75" lengthAdjust="spacingAndGlyphs" stroke="#262626" stroke-width="0.08">5</text>
<line x1="92.00" y1="205.30" x2="95.20" y2="205.30" stroke="#222" stroke-width="1"/>
<text x="91.20" y="207.89" font-size="7.2" fill="#262626" text-anchor="end" textLength="3.75" lengthAdjust="spacingAndGlyphs" stroke="#262626" stroke-width="0.08">0</text>
<rect x="96.20" y="203.20" width="4.60" height="2.60" fill="#555"/>
<line x1="95.20" y1="197.80" x2="102.80" y2="197.80" stroke="#111" stroke-width="0.9"/>
<line x1="94.70" y1="205.80" x2="102.80" y2="205.80" stroke="#111" stroke-width="1.4"/>
<rect x="95.00" y="232.38" width="8.30" height="10.14" fill="#c8141c"/>
<rect x="95.00" y="241.92" width="8.30" height="10.14" fill="#c8141c"/>
<rect x="95.00" y="251.46" width="8.30" height="10.14" fill="#c8141c"/>
<rect x="95.00" y="213.30" width="7.70" height="47.70" fill="none" stroke="#222" stroke-width="1.1"/>
<text transform="translate(101.65,264.20) rotate(-90)" font-size="6.8" fill="#262626" text-anchor="end" textLength="22.00" lengthAdjust="spacingAndGlyphs" stroke="#262626" stroke-width="0.08">Lead-in</text>
<text x="135.70" y="182.46" font-size="9.6" fill="#2f5585" text-anchor="middle" textLength="37.90" lengthAdjust="spacingAndGlyphs" stroke="#2f5585" stroke-width="0.08">AML1007</text>
<line x1="124.60" y1="188.10" x2="124.60" y2="206.60" stroke="#222" stroke-width="1.2"/>
<line x1="121.40" y1="190.70" x2="124.60" y2="190.70" stroke="#222" stroke-width="1"/>
<text x="120.60" y="193.29" font-size="7.2" fill="#262626" text-anchor="end" textLength="12.85" lengthAdjust="spacingAndGlyphs" stroke="#262626" stroke-width="0.08">10.0</text>
<line x1="121.40" y1="198.20" x2="124.60" y2="198.20" stroke="#222" stroke-width="1"/>
<text x="120.60" y="200.79" font-size="7.2" fill="#262626" text-anchor="end" textLength="9.10" lengthAdjust="spacingAndGlyphs" stroke="#262626" stroke-width="0.08">5.0</text>
<line x1="121.40" y1="205.70" x2="124.60" y2="205.70" stroke="#222" stroke-width="1"/>
<text x="120.60" y="208.29" font-size="7.2" fill="#262626" text-anchor="end" textLength="9.10" lengthAdjust="spacingAndGlyphs" stroke="#262626" stroke-width="0.08">0.0</text>
<rect x="125.80" y="191.40" width="6.00" height="14.80" fill="#555"/>
<rect x="133.00" y="193.00" width="6.00" height="13.20" fill="#555"/>
<rect x="140.20" y="201.50" width="6.00" height="4.70" fill="#555"/>
<rect x="147.40" y="191.40" width="6.00" height="14.80" fill="#555"/>
<line x1="124.60" y1="198.20" x2="154.50" y2="198.20" stroke="#111" stroke-width="0.9"/>
<line x1="124.10" y1="206.20" x2="154.50" y2="206.20" stroke="#111" stroke-width="1.4"/>
<rect x="139.85" y="213.50" width="7.83" height="10.10" fill="#ebebeb"/>
<rect x="139.85" y="223.00" width="7.83" height="10.10" fill="#ebebeb"/>
<rect x="125.40" y="242.00" width="7.83" height="10.10" fill="#fffaf0"/>
<rect x="132.62" y="242.00" width="7.83" height="10.10" fill="#fffaf0"/>
<rect x="125.40" y="251.50" width="7.83" height="10.10" fill="#e44414"/>
<rect x="132.62" y="251.50" width="7.83" height="10.10" fill="#f07418"/>
<rect x="139.85" y="251.50" width="7.83" height="10.10" fill="#ebebeb"/>
<rect x="125.40" y="213.50" width="28.90" height="47.50" fill="none" stroke="#222" stroke-width="1.1"/>
<text transform="translate(131.35,264.20) rotate(-90)" font-size="6.8" fill="#262626" text-anchor="end" textLength="30.50" lengthAdjust="spacingAndGlyphs" stroke="#262626" stroke-width="0.08">Screening</text>
<text transform="translate(138.45,264.20) rotate(-90)" font-size="6.8" fill="#262626" text-anchor="end" textLength="21.50" lengthAdjust="spacingAndGlyphs" stroke="#262626" stroke-width="0.08">Lead-in</text>
<text transform="translate(145.55,264.20) rotate(-90)" font-size="6.8" fill="#262626" text-anchor="end" textLength="8.50" lengthAdjust="spacingAndGlyphs" stroke="#262626" stroke-width="0.08">C1</text>
<text transform="translate(152.85,264.20) rotate(-90)" font-size="6.8" fill="#262626" text-anchor="end" textLength="12.50" lengthAdjust="spacingAndGlyphs" stroke="#262626" stroke-width="0.08">EOT</text>
<path d="M161.2,315 L161.2,171.7 L217,171.7 L217,313.8 L245.4,341.2 L245.4,452.5 L140.2,452.5 L140.2,341.2 Z" stroke="#404040" fill="none" stroke-width="1.4" stroke-dasharray="2.2 2.3"/>
<text x="192.20" y="182.16" font-size="9.6" fill="#2f5585" text-anchor="middle" textLength="39.00" lengthAdjust="spacingAndGlyphs" stroke="#2f5585" stroke-width="0.08">AML1019</text>
<line x1="173.30" y1="191.60" x2="173.30" y2="206.40" stroke="#222" stroke-width="1.2"/>
<line x1="170.10" y1="194.20" x2="173.30" y2="194.20" stroke="#222" stroke-width="1"/>
<text x="169.30" y="196.79" font-size="7.2" fill="#262626" text-anchor="end" textLength="7.50" lengthAdjust="spacingAndGlyphs" stroke="#262626" stroke-width="0.08">30</text>
<line x1="170.10" y1="200.40" x2="173.30" y2="200.40" stroke="#222" stroke-width="1"/>
<text x="169.30" y="202.99" font-size="7.2" fill="#262626" text-anchor="end" textLength="7.50" lengthAdjust="spacingAndGlyphs" stroke="#262626" stroke-width="0.08">15</text>
<line x1="170.10" y1="205.50" x2="173.30" y2="205.50" stroke="#222" stroke-width="1"/>
<text x="169.30" y="208.09" font-size="7.2" fill="#262626" text-anchor="end" textLength="3.75" lengthAdjust="spacingAndGlyphs" stroke="#262626" stroke-width="0.08">0</text>
<rect x="174.50" y="191.20" width="6.70" height="14.80" fill="#555"/>
<rect x="182.30" y="196.80" width="5.70" height="9.20" fill="#555"/>
<rect x="189.20" y="204.60" width="6.00" height="1.40" fill="#555"/>
<rect x="196.20" y="201.70" width="5.60" height="4.30" fill="#555"/>
<rect x="203.30" y="196.90" width="6.00" height="9.10" fill="#555"/>
<line x1="173.30" y1="203.62" x2="210.30" y2="203.62" stroke="#111" stroke-width="0.9"/>
<line x1="172.80" y1="206.00" x2="210.30" y2="206.00" stroke="#111" stroke-width="1.4"/>
<rect x="173.80" y="232.50" width="7.92" height="10.10" fill="#f8c030"/>
<rect x="181.12" y="232.50" width="7.92" height="10.10" fill="#eff0ea"/>
<rect x="188.44" y="232.50" width="7.92" height="10.10" fill="#c8141c"/>
<rect x="195.76" y="232.50" width="7.92" height="10.10" fill="#e86010"/>
<rect x="203.08" y="232.50" width="7.92" height="10.10" fill="#e86010"/>
<rect x="173.80" y="242.00" width="7.92" height="10.10" fill="#c8141c"/>
<rect x="181.12" y="242.00" width="7.92" height="10.10" fill="#c8141c"/>
<rect x="188.44" y="242.00" width="7.92" height="10.10" fill="#c8141c"/>
<rect x="195.76" y="242.00" width="7.92" height="10.10" fill="#c8141c"/>
<rect x="203.08" y="242.00" width="7.92" height="10.10" fill="#c8141c"/>
<rect x="173.80" y="251.50" width="7.92" height="10.10" fill="#c8141c"/>
<rect x="181.12" y="251.50" width="7.92" height="10.10" fill="#ebebeb"/>
<rect x="188.44" y="251.50" width="7.92" height="10.10" fill="#ebebeb"/>
<rect x="195.76" y="251.50" width="7.92" height="10.10" fill="#c8141c"/>
<rect x="203.08" y="251.50" width="7.92" height="10.10" fill="#ebebeb"/>
<rect x="173.80" y="213.50" width="36.60" height="47.50" fill="none" stroke="#222" stroke-width="1.1"/>
<text transform="translate(180.05,264.20) rotate(-90)" font-size="6.8" fill="#262626" text-anchor="end" textLength="30.50" lengthAdjust="spacingAndGlyphs" stroke="#262626" stroke-width="0.08">Screening</text>
<text transform="translate(187.45,264.20) rotate(-90)" font-size="6.8" fill="#262626" text-anchor="end" textLength="21.50" lengthAdjust="spacingAndGlyphs" stroke="#262626" stroke-width="0.08">Lead-in</text>
<text transform="translate(194.45,264.20) rotate(-90)" font-size="6.8" fill="#262626" text-anchor="end" textLength="8.50" lengthAdjust="spacingAndGlyphs" stroke="#262626" stroke-width="0.08">C1</text>
<text transform="translate(201.85,264.20) rotate(-90)" font-size="6.8" fill="#262626" text-anchor="end" textLength="9.00" lengthAdjust="spacingAndGlyphs" stroke="#262626" stroke-width="0.08">UC</text>
<text transform="translate(209.25,264.20) rotate(-90)" font-size="6.8" fill="#262626" text-anchor="end" textLength="9.00" lengthAdjust="spacingAndGlyphs" stroke="#262626" stroke-width="0.08">C2</text>
<text x="242.20" y="182.16" font-size="9.6" fill="#a91e40" text-anchor="middle" textLength="39.00" lengthAdjust="spacingAndGlyphs" stroke="#a91e40" stroke-width="0.08">AML1010</text>
<line x1="230.70" y1="192.40" x2="230.70" y2="206.40" stroke="#222" stroke-width="1.2"/>
<line x1="227.50" y1="195.00" x2="230.70" y2="195.00" stroke="#222" stroke-width="1"/>
<text x="226.70" y="197.59" font-size="7.2" fill="#262626" text-anchor="end" textLength="7.50" lengthAdjust="spacingAndGlyphs" stroke="#262626" stroke-width="0.08">50</text>
<line x1="227.50" y1="200.20" x2="230.70" y2="200.20" stroke="#222" stroke-width="1"/>
<text x="226.70" y="202.79" font-size="7.2" fill="#262626" text-anchor="end" textLength="7.50" lengthAdjust="spacingAndGlyphs" stroke="#262626" stroke-width="0.08">25</text>
<line x1="227.50" y1="205.50" x2="230.70" y2="205.50" stroke="#222" stroke-width="1"/>
<text x="226.70" y="208.09" font-size="7.2" fill="#262626" text-anchor="end" textLength="3.75" lengthAdjust="spacingAndGlyphs" stroke="#262626" stroke-width="0.08">0</text>
<rect x="231.70" y="198.70" width="6.50" height="7.30" fill="#555"/>
<rect x="239.20" y="201.70" width="5.60" height="4.30" fill="#555"/>
<rect x="246.00" y="199.20" width="6.00" height="6.80" fill="#555"/>
<rect x="253.50" y="198.30" width="6.00" height="7.70" fill="#555"/>
<rect x="261.00" y="191.20" width="6.30" height="14.80" fill="#555"/>
<line x1="230.70" y1="204.45" x2="267.70" y2="204.45" stroke="#111" stroke-width="0.9"/>
<line x1="230.20" y1="206.00" x2="267.70" y2="206.00" stroke="#111" stroke-width="1.4"/>
<rect x="238.64" y="242.00" width="8.04" height="10.10" fill="#fefcf7"/>
<rect x="253.52" y="251.50" width="8.04" height="10.10" fill="#f1f1f1"/>
<rect x="231.20" y="213.50" width="37.20" height="47.50" fill="none" stroke="#222" stroke-width="1.1"/>
<text transform="translate(236.75,264.20) rotate(-90)" font-size="6.8" fill="#262626" text-anchor="end" textLength="30.50" lengthAdjust="spacingAndGlyphs" stroke="#262626" stroke-width="0.08">Screening</text>
<text transform="translate(244.45,264.20) rotate(-90)" font-size="6.8" fill="#262626" text-anchor="end" textLength="21.50" lengthAdjust="spacingAndGlyphs" stroke="#262626" stroke-width="0.08">Lead-in</text>
<text transform="translate(251.85,264.20) rotate(-90)" font-size="6.8" fill="#262626" text-anchor="end" textLength="8.50" lengthAdjust="spacingAndGlyphs" stroke="#262626" stroke-width="0.08">C1</text>
<text transform="translate(259.15,264.20) rotate(-90)" font-size="6.8" fill="#262626" text-anchor="end" textLength="8.50" lengthAdjust="spacingAndGlyphs" stroke="#262626" stroke-width="0.08">C4</text>
<text transform="translate(266.25,264.20) rotate(-90)" font-size="6.8" fill="#262626" text-anchor="end" textLength="12.20" lengthAdjust="spacingAndGlyphs" stroke="#262626" stroke-width="0.08">C10</text>
<path d="M274.4,452.2 L274.4,171.7 L323.1,171.7 L323.1,452.2 Z" stroke="#404040" fill="none" stroke-width="1.4" stroke-dasharray="2.2 2.3"/>
<text x="299.50" y="182.16" font-size="9.6" fill="#a91e40" text-anchor="middle" textLength="39.00" lengthAdjust="spacingAndGlyphs" stroke="#a91e40" stroke-width="0.08">AML1012</text>
<line x1="287.80" y1="189.80" x2="287.80" y2="206.10" stroke="#222" stroke-width="1.2"/>
<line x1="284.60" y1="192.40" x2="287.80" y2="192.40" stroke="#222" stroke-width="1"/>
<text x="283.80" y="194.99" font-size="7.2" fill="#262626" text-anchor="end" textLength="7.50" lengthAdjust="spacingAndGlyphs" stroke="#262626" stroke-width="0.08">50</text>
<line x1="284.60" y1="198.70" x2="287.80" y2="198.70" stroke="#222" stroke-width="1"/>
<text x="283.80" y="201.29" font-size="7.2" fill="#262626" text-anchor="end" textLength="7.50" lengthAdjust="spacingAndGlyphs" stroke="#262626" stroke-width="0.08">25</text>
<line x1="284.60" y1="205.20" x2="287.80" y2="205.20" stroke="#222" stroke-width="1"/>
<text x="283.80" y="207.79" font-size="7.2" fill="#262626" text-anchor="end" textLength="3.75" lengthAdjust="spacingAndGlyphs" stroke="#262626" stroke-width="0.08">0</text>
<rect x="289.70" y="195.00" width="5.30" height="10.70" fill="#555"/>
<rect x="296.50" y="192.70" width="6.00" height="13.00" fill="#555"/>
<rect x="304.00" y="191.20" width="5.70" height="14.50" fill="#555"/>
<rect x="311.20" y="193.50" width="5.50" height="12.20" fill="#555"/>
<line x1="287.80" y1="203.92" x2="317.80" y2="203.92" stroke="#111" stroke-width="0.9"/>
<line x1="287.30" y1="205.70" x2="317.80" y2="205.70" stroke="#111" stroke-width="1.4"/>
<rect x="288.30" y="213.50" width="29.50" height="47.50" fill="none" stroke="#222" stroke-width="1.1"/>
<text transform="translate(294.25,264.20) rotate(-90)" font-size="6.8" fill="#262626" text-anchor="end" textLength="30.50" lengthAdjust="spacingAndGlyphs" stroke="#262626" stroke-width="0.08">Screening</text>
<text transform="translate(301.45,264.20) rotate(-90)" font-size="6.8" fill="#262626" text-anchor="end" textLength="21.50" lengthAdjust="spacingAndGlyphs" stroke="#262626" stroke-width="0.08">Lead-in</text>
<text transform="translate(308.65,264.20) rotate(-90)" font-size="6.8" fill="#262626" text-anchor="end" textLength="8.50" lengthAdjust="spacingAndGlyphs" stroke="#262626" stroke-width="0.08">C2</text>
<text transform="translate(316.05,264.20) rotate(-90)" font-size="6.8" fill="#262626" text-anchor="end" textLength="12.50" lengthAdjust="spacingAndGlyphs" stroke="#262626" stroke-width="0.08">EOT</text>
<path d="M326.9,452.2 L326.9,171.7 L375.1,171.7 L375.1,452.2 Z" stroke="#404040" fill="none" stroke-width="1.4" stroke-dasharray="2.2 2.3"/>
<text x="349.20" y="182.16" font-size="9.6" fill="#a91e40" text-anchor="middle" textLength="39.00" lengthAdjust="spacingAndGlyphs" stroke="#a91e40" stroke-width="0.08">AML1016</text>
<line x1="345.80" y1="189.80" x2="345.80" y2="206.10" stroke="#222" stroke-width="1.2"/>
<line x1="342.60" y1="192.40" x2="345.80" y2="192.40" stroke="#222" stroke-width="1"/>
<text x="341.80" y="194.99" font-size="7.2" fill="#262626" text-anchor="end" textLength="7.50" lengthAdjust="spacingAndGlyphs" stroke="#262626" stroke-width="0.08">30</text>
<line x1="342.60" y1="199.20" x2="345.80" y2="199.20" stroke="#222" stroke-width="1"/>
<text x="341.80" y="201.79" font-size="7.2" fill="#262626" text-anchor="end" textLength="7.50" lengthAdjust="spacingAndGlyphs" stroke="#262626" stroke-width="0.08">15</text>
<line x1="342.60" y1="205.20" x2="345.80" y2="205.20" stroke="#222" stroke-width="1"/>
<text x="341.80" y="207.79" font-size="7.2" fill="#262626" text-anchor="end" textLength="3.75" lengthAdjust="spacingAndGlyphs" stroke="#262626" stroke-width="0.08">0</text>
<rect x="347.00" y="191.20" width="6.00" height="14.50" fill="#555"/>
<rect x="353.70" y="200.50" width="6.50" height="5.20" fill="#555"/>
<line x1="345.80" y1="203.07" x2="360.50" y2="203.07" stroke="#111" stroke-width="0.9"/>
<line x1="345.30" y1="205.70" x2="360.50" y2="205.70" stroke="#111" stroke-width="1.4"/>
<rect x="346.00" y="242.00" width="8.10" height="10.10" fill="#ebebeb"/>
<rect x="346.00" y="251.50" width="8.10" height="10.10" fill="#c8141c"/>
<rect x="346.00" y="213.50" width="15.00" height="47.50" fill="none" stroke="#222" stroke-width="1.1"/>
<text transform="translate(352.25,264.20) rotate(-90)" font-size="6.8" fill="#262626" text-anchor="end" textLength="30.50" lengthAdjust="spacingAndGlyphs" stroke="#262626" stroke-width="0.08">Screening</text>
<text transform="translate(359.85,264.20) rotate(-90)" font-size="6.8" fill="#262626" text-anchor="end" textLength="8.50" lengthAdjust="spacingAndGlyphs" stroke="#262626" stroke-width="0.08">C2</text>
<path d="M377.9,452.5 L377.9,171.7 L426.8,171.7 L426.8,452.5 Z" stroke="#404040" fill="none" stroke-width="1.4" stroke-dasharray="2.2 2.3"/>
<text x="400.70" y="182.16" font-size="9.6" fill="#a91e40" text-anchor="middle" textLength="39.00" lengthAdjust="spacingAndGlyphs" stroke="#a91e40" stroke-width="0.08">AML1022</text>
<line x1="391.70" y1="190.10" x2="391.70" y2="206.10" stroke="#222" stroke-width="1.2"/>
<line x1="388.50" y1="192.70" x2="391.70" y2="192.70" stroke="#222" stroke-width="1"/>
<text x="387.70" y="195.29" font-size="7.2" fill="#262626" text-anchor="end" textLength="7.50" lengthAdjust="spacingAndGlyphs" stroke="#262626" stroke-width="0.08">50</text>
<line x1="388.50" y1="199.20" x2="391.70" y2="199.20" stroke="#222" stroke-width="1"/>
<text x="387.70" y="201.79" font-size="7.2" fill="#262626" text-anchor="end" textLength="7.50" lengthAdjust="spacingAndGlyphs" stroke="#262626" stroke-width="0.08">25</text>
<line x1="388.50" y1="205.20" x2="391.70" y2="205.20" stroke="#222" stroke-width="1"/>
<text x="387.70" y="207.79" font-size="7.2" fill="#262626" text-anchor="end" textLength="3.75" lengthAdjust="spacingAndGlyphs" stroke="#262626" stroke-width="0.08">0</text>
<rect x="392.50" y="198.30" width="6.70" height="7.40" fill="#555"/>
<rect x="400.00" y="200.20" width="6.00" height="5.50" fill="#555"/>
<rect x="407.20" y="191.20" width="6.30" height="14.50" fill="#555"/>
<line x1="391.70" y1="203.95" x2="414.50" y2="203.95" stroke="#111" stroke-width="0.9"/>
<line x1="391.20" y1="205.70" x2="414.50" y2="205.70" stroke="#111" stroke-width="1.4"/>
<rect x="392.30" y="213.50" width="22.40" height="47.50" fill="none" stroke="#222" stroke-width="1.1"/>
<text transform="translate(397.85,264.20) rotate(-90)" font-size="6.8" fill="#262626" text-anchor="end" textLength="30.50" lengthAdjust="spacingAndGlyphs" stroke="#262626" stroke-width="0.08">Screening</text>
<text transform="translate(406.05,264.20) rotate(-90)" font-size="6.8" fill="#262626" text-anchor="end" textLength="21.50" lengthAdjust="spacingAndGlyphs" stroke="#262626" stroke-width="0.08">Lead-in</text>
<text transform="translate(414.05,264.20) rotate(-90)" font-size="6.8" fill="#262626" text-anchor="end" textLength="8.50" lengthAdjust="spacingAndGlyphs" stroke="#262626" stroke-width="0.08">C1</text>
<text x="455.60" y="181.86" font-size="9.6" fill="#a91e40" text-anchor="middle" textLength="39.20" lengthAdjust="spacingAndGlyphs" stroke="#a91e40" stroke-width="0.08">AML1026</text>
<line x1="446.10" y1="190.70" x2="446.10" y2="206.90" stroke="#222" stroke-width="1.2"/>
<line x1="442.90" y1="193.30" x2="446.10" y2="193.30" stroke="#222" stroke-width="1"/>
<text x="442.10" y="195.89" font-size="7.2" fill="#262626" text-anchor="end" textLength="12.85" lengthAdjust="spacingAndGlyphs" stroke="#262626" stroke-width="0.08">15.0</text>
<line x1="442.90" y1="199.80" x2="446.10" y2="199.80" stroke="#222" stroke-width="1"/>
<text x="442.10" y="202.39" font-size="7.2" fill="#262626" text-anchor="end" textLength="9.10" lengthAdjust="spacingAndGlyphs" stroke="#262626" stroke-width="0.08">7.5</text>
<line x1="442.90" y1="206.00" x2="446.10" y2="206.00" stroke="#222" stroke-width="1"/>
<text x="442.10" y="208.59" font-size="7.2" fill="#262626" text-anchor="end" textLength="9.10" lengthAdjust="spacingAndGlyphs" stroke="#262626" stroke-width="0.08">0.0</text>
<rect x="448.00" y="191.40" width="4.90" height="15.10" fill="#555"/>
<rect x="455.00" y="192.20" width="5.40" height="14.30" fill="#555"/>
<rect x="462.30" y="204.00" width="4.70" height="2.50" fill="#555"/>
<rect x="469.20" y="191.40" width="5.40" height="15.10" fill="#555"/>
<line x1="446.10" y1="201.77" x2="475.00" y2="201.77" stroke="#111" stroke-width="0.9"/>
<line x1="445.60" y1="206.50" x2="475.00" y2="206.50" stroke="#111" stroke-width="1.4"/>
<rect x="453.62" y="232.50" width="8.12" height="10.10" fill="#fdf3e0"/>
<rect x="461.15" y="232.50" width="8.12" height="10.10" fill="#fdf3e0"/>
<rect x="453.62" y="242.00" width="8.12" height="10.10" fill="#f4f0ec"/>
<rect x="461.15" y="242.00" width="8.12" height="10.10" fill="#fde0a0"/>
<rect x="468.68" y="242.00" width="8.12" height="10.10" fill="#ebebeb"/>
<rect x="446.10" y="251.50" width="8.12" height="10.10" fill="#c8141c"/>
<rect x="453.62" y="251.50" width="8.12" height="10.10" fill="#ebebeb"/>
<rect x="461.15" y="251.50" width="8.12" height="10.10" fill="#ebebeb"/>
<rect x="468.68" y="251.50" width="8.12" height="10.10" fill="#ebebeb"/>
<rect x="446.10" y="213.50" width="30.10" height="47.50" fill="none" stroke="#222" stroke-width="1.1"/>
<text transform="translate(452.25,264.20) rotate(-90)" font-size="6.8" fill="#262626" text-anchor="end" textLength="30.50" lengthAdjust="spacingAndGlyphs" stroke="#262626" stroke-width="0.08">Screening</text>
<text transform="translate(459.75,264.20) rotate(-90)" font-size="6.8" fill="#262626" text-anchor="end" textLength="21.50" lengthAdjust="spacingAndGlyphs" stroke="#262626" stroke-width="0.08">Lead-in</text>
<text transform="translate(466.45,264.20) rotate(-90)" font-size="6.8" fill="#262626" text-anchor="end" textLength="8.50" lengthAdjust="spacingAndGlyphs" stroke="#262626" stroke-width="0.08">C1</text>
<text transform="translate(473.95,264.20) rotate(-90)" font-size="6.8" fill="#262626" text-anchor="end" textLength="24.40" lengthAdjust="spacingAndGlyphs" stroke="#262626" stroke-width="0.08">Relapse</text>
<text x="482.00" y="211.82" font-size="7" fill="#262626" textLength="25.60" lengthAdjust="spacingAndGlyphs" stroke="#262626" stroke-width="0.08">% donor</text>
<text x="482.00" y="220.52" font-size="7" fill="#262626" textLength="30.50" lengthAdjust="spacingAndGlyphs" stroke="#262626" stroke-width="0.08">chimerism</text>
<defs><linearGradient id="gch" x1="0" y1="1" x2="0" y2="0"><stop offset="0" stop-color="#ffffff"/><stop offset="0.1" stop-color="#fffbe0"/><stop offset="0.3" stop-color="#f6e040"/><stop offset="0.5" stop-color="#ee9420"/><stop offset="0.72" stop-color="#d83020"/><stop offset="0.94" stop-color="#c01828"/><stop offset="1" stop-color="#8a1020"/></linearGradient><linearGradient id="gor" x1="0" y1="0" x2="1" y2="0"><stop offset="0" stop-color="#ffffff"/><stop offset="0.25" stop-color="#fde0c0"/><stop offset="0.5" stop-color="#f49060"/><stop offset="0.75" stop-color="#e03020"/><stop offset="1" stop-color="#900010"/></linearGradient></defs>
<rect x="483.30" y="225.80" width="3.80" height="46.00" fill="url(#gch)" stroke="#222" stroke-width="0.9"/>
<line x1="487.10" y1="227.10" x2="489.90" y2="227.10" stroke="#222" stroke-width="1.1"/>
<text x="491.60" y="229.76" font-size="7.4" fill="#262626" textLength="12.50" lengthAdjust="spacingAndGlyphs" stroke="#262626" stroke-width="0.08">100</text>
<line x1="487.10" y1="248.10" x2="489.90" y2="248.10" stroke="#222" stroke-width="1.1"/>
<text x="491.60" y="250.76" font-size="7.4" fill="#262626" textLength="8.50" lengthAdjust="spacingAndGlyphs" stroke="#262626" stroke-width="0.08">50</text>
<line x1="487.10" y1="268.40" x2="489.90" y2="268.40" stroke="#222" stroke-width="1.1"/>
<text x="491.60" y="271.06" font-size="7.4" fill="#262626" textLength="4.50" lengthAdjust="spacingAndGlyphs" stroke="#262626" stroke-width="0.08">0</text>
<text x="7.20" y="317.40" font-size="12" fill="#111" font-weight="bold">E</text>
<text x="57.40" y="344.92" font-size="7" fill="#262626" text-anchor="end" textLength="12.60" lengthAdjust="spacingAndGlyphs" stroke="#262626" stroke-width="0.08">HSC</text>
<text x="57.40" y="354.12" font-size="7" fill="#262626" text-anchor="end" textLength="17.10" lengthAdjust="spacingAndGlyphs" stroke="#262626" stroke-width="0.08">LMPP</text>
<text x="57.40" y="362.92" font-size="7" fill="#262626" text-anchor="end" textLength="15.00" lengthAdjust="spacingAndGlyphs" stroke="#262626" stroke-width="0.08">GMP</text>
<text x="16.60" y="374.32" font-size="7" fill="#262626" textLength="17.60" lengthAdjust="spacingAndGlyphs" stroke="#262626" stroke-width="0.08">CD14</text>
<text x="35.10" y="369.10" font-size="5" fill="#262626" stroke="#262626" stroke-width="0.08">+</text>
<text x="57.40" y="374.32" font-size="7" fill="#262626" text-anchor="end" textLength="17.70" lengthAdjust="spacingAndGlyphs" stroke="#262626" stroke-width="0.08">Mono</text>
<text x="16.60" y="384.82" font-size="7" fill="#262626" textLength="17.60" lengthAdjust="spacingAndGlyphs" stroke="#262626" stroke-width="0.08">CD16</text>
<text x="35.10" y="379.60" font-size="5" fill="#262626" stroke="#262626" stroke-width="0.08">+</text>
<text x="57.40" y="384.82" font-size="7" fill="#262626" text-anchor="end" textLength="17.70" lengthAdjust="spacingAndGlyphs" stroke="#262626" stroke-width="0.08">Mono</text>
<text x="71.20" y="328.66" font-size="9.6" fill="#2f5585" text-anchor="middle" textLength="39.60" lengthAdjust="spacingAndGlyphs" stroke="#2f5585" stroke-width="0.08">AML1002</text>
<rect x="60.60" y="338.10" width="7.53" height="10.16" fill="#f08050"/>
<rect x="67.53" y="338.10" width="7.53" height="10.16" fill="#f8c8a0"/>
<rect x="74.47" y="338.10" width="7.53" height="10.16" fill="#fdf0e0"/>
<rect x="60.60" y="347.66" width="7.53" height="10.16" fill="#f07040"/>
<rect x="67.53" y="347.66" width="7.53" height="10.16" fill="#e8eaf0"/>
<rect x="74.47" y="347.66" width="7.53" height="10.16" fill="#f4f0ee"/>
<rect x="60.60" y="357.22" width="7.53" height="10.16" fill="#ebebeb"/>
<rect x="67.53" y="357.22" width="7.53" height="10.16" fill="#e8e8ea"/>
<rect x="74.47" y="357.22" width="7.53" height="10.16" fill="#f0eeea"/>
<rect x="60.60" y="366.78" width="7.53" height="10.16" fill="#ebebeb"/>
<rect x="67.53" y="366.78" width="7.53" height="10.16" fill="#ebebeb"/>
<rect x="74.47" y="366.78" width="7.53" height="10.16" fill="#fdf0e0"/>
<rect x="60.60" y="376.34" width="7.53" height="10.16" fill="#fdf0e0"/>
<rect x="67.53" y="376.34" width="7.53" height="10.16" fill="#ebebeb"/>
<rect x="74.47" y="376.34" width="7.53" height="10.16" fill="#f0ede8"/>
<rect x="60.60" y="338.10" width="20.80" height="47.80" fill="none" stroke="#222" stroke-width="1.1"/>
<text transform="translate(66.05,389.20) rotate(-90)" font-size="6.8" fill="#262626" text-anchor="end" textLength="30.50" lengthAdjust="spacingAndGlyphs" stroke="#262626" stroke-width="0.08">Screening</text>
<text transform="translate(73.65,389.20) rotate(-90)" font-size="6.8" fill="#262626" text-anchor="end" textLength="21.50" lengthAdjust="spacingAndGlyphs" stroke="#262626" stroke-width="0.08">Lead-in</text>
<text transform="translate(80.75,389.20) rotate(-90)" font-size="6.8" fill="#262626" text-anchor="end" textLength="8.50" lengthAdjust="spacingAndGlyphs" stroke="#262626" stroke-width="0.08">C1</text>
<text x="59.10" y="431.35" font-size="6.8" fill="#262626" text-anchor="middle" textLength="28.9" lengthAdjust="spacingAndGlyphs" stroke="#262626" stroke-width="0.08">% <tspan font-style="italic">del</tspan>(7q)</text>
<rect x="40.30" y="435.00" width="37.30" height="5.00" fill="url(#gor)" stroke="#222" stroke-width="0.9"/>
<line x1="42.30" y1="440.00" x2="42.30" y2="441.80" stroke="#222" stroke-width="0.9"/>
<text x="42.80" y="449.22" font-size="7" fill="#262626" text-anchor="middle" textLength="4.50" lengthAdjust="spacingAndGlyphs" stroke="#262626" stroke-width="0.08">0</text>
<line x1="58.95" y1="440.00" x2="58.95" y2="441.80" stroke="#222" stroke-width="0.9"/>
<text x="58.95" y="449.22" font-size="7" fill="#262626" text-anchor="middle" textLength="8.00" lengthAdjust="spacingAndGlyphs" stroke="#262626" stroke-width="0.08">50</text>
<line x1="75.60" y1="440.00" x2="75.60" y2="441.80" stroke="#222" stroke-width="0.9"/>
<text x="76.00" y="449.22" font-size="7" fill="#262626" text-anchor="middle" textLength="12.00" lengthAdjust="spacingAndGlyphs" stroke="#262626" stroke-width="0.08">100</text>
<text x="115.30" y="329.06" font-size="9.6" fill="#2f5585" text-anchor="middle" textLength="38.60" lengthAdjust="spacingAndGlyphs" stroke="#2f5585" stroke-width="0.08">AML8007</text>
<rect x="95.70" y="338.10" width="7.95" height="10.16" fill="#d42020"/>
<rect x="103.05" y="338.10" width="7.95" height="10.16" fill="#d82020"/>
<rect x="110.40" y="338.10" width="7.95" height="10.16" fill="#f06040"/>
<rect x="117.75" y="338.10" width="7.95" height="10.16" fill="#fde0c8"/>
<rect x="95.70" y="347.66" width="7.95" height="10.16" fill="#b01018"/>
<rect x="103.05" y="347.66" width="7.95" height="10.16" fill="#b81018"/>
<rect x="110.40" y="347.66" width="7.95" height="10.16" fill="#c01018"/>
<rect x="117.75" y="347.66" width="7.95" height="10.16" fill="#f07040"/>
<rect x="95.70" y="357.22" width="7.95" height="10.16" fill="#d01818"/>
<rect x="103.05" y="357.22" width="7.95" height="10.16" fill="#c81018"/>
<rect x="110.40" y="357.22" width="7.95" height="10.16" fill="#e02020"/>
<rect x="117.75" y="357.22" width="7.95" height="10.16" fill="#d82020"/>
<rect x="95.70" y="366.78" width="7.95" height="10.16" fill="#e6e6e6"/>
<rect x="103.05" y="366.78" width="7.95" height="10.16" fill="#e6e6e6"/>
<rect x="110.40" y="366.78" width="7.95" height="10.16" fill="#e6e6e6"/>
<rect x="117.75" y="366.78" width="7.95" height="10.16" fill="#e6e6e6"/>
<rect x="95.70" y="376.34" width="7.95" height="10.16" fill="#e6e6e6"/>
<rect x="103.05" y="376.34" width="7.95" height="10.16" fill="#e6e6e6"/>
<rect x="110.40" y="376.34" width="7.95" height="10.16" fill="#e6e6e6"/>
<rect x="117.75" y="376.34" width="7.95" height="10.16" fill="#e6e6e6"/>
<rect x="95.70" y="338.10" width="29.40" height="47.80" fill="none" stroke="#222" stroke-width="1.1"/>
<text transform="translate(101.45,389.20) rotate(-90)" font-size="6.8" fill="#262626" text-anchor="end" textLength="30.50" lengthAdjust="spacingAndGlyphs" stroke="#262626" stroke-width="0.08">Screening</text>
<text transform="translate(109.05,389.20) rotate(-90)" font-size="6.8" fill="#262626" text-anchor="end" textLength="21.50" lengthAdjust="spacingAndGlyphs" stroke="#262626" stroke-width="0.08">Lead-in</text>
<text transform="translate(116.05,389.20) rotate(-90)" font-size="6.8" fill="#262626" text-anchor="end" textLength="8.50" lengthAdjust="spacingAndGlyphs" stroke="#262626" stroke-width="0.08">C1</text>
<text transform="translate(123.45,389.20) rotate(-90)" font-size="6.8" fill="#262626" text-anchor="end" textLength="8.50" lengthAdjust="spacingAndGlyphs" stroke="#262626" stroke-width="0.08">C4</text>
<text x="109.30" y="431.35" font-size="6.8" fill="#262626" text-anchor="middle" textLength="32.7" lengthAdjust="spacingAndGlyphs" stroke="#262626" stroke-width="0.08">% <tspan font-style="italic">amp</tspan>(1p)</text>
<rect x="90.30" y="435.00" width="37.70" height="5.00" fill="url(#gor)" stroke="#222" stroke-width="0.9"/>
<line x1="92.30" y1="440.00" x2="92.30" y2="441.80" stroke="#222" stroke-width="0.9"/>
<text x="92.80" y="449.22" font-size="7" fill="#262626" text-anchor="middle" textLength="4.50" lengthAdjust="spacingAndGlyphs" stroke="#262626" stroke-width="0.08">0</text>
<line x1="109.15" y1="440.00" x2="109.15" y2="441.80" stroke="#222" stroke-width="0.9"/>
<text x="109.15" y="449.22" font-size="7" fill="#262626" text-anchor="middle" textLength="8.00" lengthAdjust="spacingAndGlyphs" stroke="#262626" stroke-width="0.08">50</text>
<line x1="126.00" y1="440.00" x2="126.00" y2="441.80" stroke="#222" stroke-width="0.9"/>
<text x="126.40" y="449.22" font-size="7" fill="#262626" text-anchor="middle" textLength="12.00" lengthAdjust="spacingAndGlyphs" stroke="#262626" stroke-width="0.08">100</text>
<text x="188.90" y="328.76" font-size="9.6" fill="#2f5585" text-anchor="middle" textLength="39.20" lengthAdjust="spacingAndGlyphs" stroke="#2f5585" stroke-width="0.08">AML1019</text>
<rect x="148.70" y="338.00" width="8.02" height="10.10" fill="#f8b088"/>
<rect x="156.12" y="338.00" width="8.02" height="10.10" fill="#f8c0a0"/>
<rect x="163.54" y="338.00" width="8.02" height="10.10" fill="#f09070"/>
<rect x="170.96" y="338.00" width="8.02" height="10.10" fill="#f8b090"/>
<rect x="178.38" y="338.00" width="8.02" height="10.10" fill="#fbd0b0"/>
<rect x="148.70" y="347.50" width="8.02" height="10.10" fill="#e85030"/>
<rect x="156.12" y="347.50" width="8.02" height="10.10" fill="#f8a888"/>
<rect x="163.54" y="347.50" width="8.02" height="10.10" fill="#f4a080"/>
<rect x="170.96" y="347.50" width="8.02" height="10.10" fill="#e86040"/>
<rect x="178.38" y="347.50" width="8.02" height="10.10" fill="#f8c0a0"/>
<rect x="148.70" y="357.00" width="8.02" height="10.10" fill="#f8a080"/>
<rect x="156.12" y="357.00" width="8.02" height="10.10" fill="#e8e8ec"/>
<rect x="163.54" y="357.00" width="8.02" height="10.10" fill="#e8e8ec"/>
<rect x="170.96" y="357.00" width="8.02" height="10.10" fill="#eee8e8"/>
<rect x="178.38" y="357.00" width="8.02" height="10.10" fill="#f0ecea"/>
<rect x="148.70" y="366.50" width="8.02" height="10.10" fill="#fdf0e8"/>
<rect x="156.12" y="366.50" width="8.02" height="10.10" fill="#e8e8ec"/>
<rect x="163.54" y="366.50" width="8.02" height="10.10" fill="#eaeaea"/>
<rect x="170.96" y="366.50" width="8.02" height="10.10" fill="#fdf4e8"/>
<rect x="178.38" y="366.50" width="8.02" height="10.10" fill="#ececec"/>
<rect x="148.70" y="376.00" width="8.02" height="10.10" fill="#e8e8ec"/>
<rect x="156.12" y="376.00" width="8.02" height="10.10" fill="#e8e8ec"/>
<rect x="163.54" y="376.00" width="8.02" height="10.10" fill="#e8e8ec"/>
<rect x="170.96" y="376.00" width="8.02" height="10.10" fill="#fdf4e8"/>
<rect x="178.38" y="376.00" width="8.02" height="10.10" fill="#ececec"/>
<rect x="148.70" y="338.00" width="37.10" height="47.50" fill="none" stroke="#222" stroke-width="1.1"/>
<text transform="translate(154.95,389.20) rotate(-90)" font-size="6.8" fill="#262626" text-anchor="end" textLength="30.50" lengthAdjust="spacingAndGlyphs" stroke="#262626" stroke-width="0.08">Screening</text>
<text transform="translate(163.25,389.20) rotate(-90)" font-size="6.8" fill="#262626" text-anchor="end" textLength="21.50" lengthAdjust="spacingAndGlyphs" stroke="#262626" stroke-width="0.08">Lead-in</text>
<text transform="translate(170.85,389.20) rotate(-90)" font-size="6.8" fill="#262626" text-anchor="end" textLength="8.50" lengthAdjust="spacingAndGlyphs" stroke="#262626" stroke-width="0.08">C1</text>
<text transform="translate(178.45,389.20) rotate(-90)" font-size="6.8" fill="#262626" text-anchor="end" textLength="9.00" lengthAdjust="spacingAndGlyphs" stroke="#262626" stroke-width="0.08">UC</text>
<text transform="translate(185.45,389.20) rotate(-90)" font-size="6.8" fill="#262626" text-anchor="end" textLength="8.50" lengthAdjust="spacingAndGlyphs" stroke="#262626" stroke-width="0.08">C2</text>
<rect x="194.50" y="338.00" width="8.10" height="10.10" fill="#f07850"/>
<rect x="202.00" y="338.00" width="8.10" height="10.10" fill="#f07040"/>
<rect x="209.50" y="338.00" width="8.10" height="10.10" fill="#fde0c8"/>
<rect x="217.00" y="338.00" width="8.10" height="10.10" fill="#f8a070"/>
<rect x="224.50" y="338.00" width="8.10" height="10.10" fill="#f8a878"/>
<rect x="194.50" y="347.50" width="8.10" height="10.10" fill="#fbd8c0"/>
<rect x="202.00" y="347.50" width="8.10" height="10.10" fill="#f49070"/>
<rect x="209.50" y="347.50" width="8.10" height="10.10" fill="#fde8d8"/>
<rect x="217.00" y="347.50" width="8.10" height="10.10" fill="#fde8d0"/>
<rect x="224.50" y="347.50" width="8.10" height="10.10" fill="#fbd0b0"/>
<rect x="194.50" y="357.00" width="8.10" height="10.10" fill="#fdf0e0"/>
<rect x="202.00" y="357.00" width="8.10" height="10.10" fill="#e8e8ec"/>
<rect x="209.50" y="357.00" width="8.10" height="10.10" fill="#e8e8ec"/>
<rect x="217.00" y="357.00" width="8.10" height="10.10" fill="#fdf0e0"/>
<rect x="224.50" y="357.00" width="8.10" height="10.10" fill="#ecebea"/>
<rect x="194.50" y="366.50" width="8.10" height="10.10" fill="#fdf0e0"/>
<rect x="202.00" y="366.50" width="8.10" height="10.10" fill="#e8e8ec"/>
<rect x="209.50" y="366.50" width="8.10" height="10.10" fill="#e8e8ec"/>
<rect x="217.00" y="366.50" width="8.10" height="10.10" fill="#fdecd8"/>
<rect x="224.50" y="366.50" width="8.10" height="10.10" fill="#ececec"/>
<rect x="194.50" y="376.00" width="8.10" height="10.10" fill="#ececec"/>
<rect x="202.00" y="376.00" width="8.10" height="10.10" fill="#e8e8ec"/>
<rect x="209.50" y="376.00" width="8.10" height="10.10" fill="#eeeeee"/>
<rect x="217.00" y="376.00" width="8.10" height="10.10" fill="#fde8d0"/>
<rect x="224.50" y="376.00" width="8.10" height="10.10" fill="#ececec"/>
<rect x="194.50" y="338.00" width="37.50" height="47.50" fill="none" stroke="#222" stroke-width="1.1"/>
<text transform="translate(200.95,389.20) rotate(-90)" font-size="6.8" fill="#262626" text-anchor="end" textLength="30.50" lengthAdjust="spacingAndGlyphs" stroke="#262626" stroke-width="0.08">Screening</text>
<text transform="translate(208.85,389.20) rotate(-90)" font-size="6.8" fill="#262626" text-anchor="end" textLength="21.50" lengthAdjust="spacingAndGlyphs" stroke="#262626" stroke-width="0.08">Lead-in</text>
<text transform="translate(216.05,389.20) rotate(-90)" font-size="6.8" fill="#262626" text-anchor="end" textLength="8.50" lengthAdjust="spacingAndGlyphs" stroke="#262626" stroke-width="0.08">C1</text>
<text transform="translate(223.45,389.20) rotate(-90)" font-size="6.8" fill="#262626" text-anchor="end" textLength="9.00" lengthAdjust="spacingAndGlyphs" stroke="#262626" stroke-width="0.08">UC</text>
<text transform="translate(230.25,389.20) rotate(-90)" font-size="6.8" fill="#262626" text-anchor="end" textLength="8.50" lengthAdjust="spacingAndGlyphs" stroke="#262626" stroke-width="0.08">C2</text>
<text x="168.70" y="431.35" font-size="6.8" fill="#262626" text-anchor="middle" textLength="28.3" lengthAdjust="spacingAndGlyphs" stroke="#262626" stroke-width="0.08">% <tspan font-style="italic">amp</tspan>(8)</text>
<rect x="149.50" y="435.00" width="38.00" height="5.00" fill="url(#gor)" stroke="#222" stroke-width="0.9"/>
<line x1="151.50" y1="440.00" x2="151.50" y2="441.80" stroke="#222" stroke-width="0.9"/>
<text x="152.00" y="449.22" font-size="7" fill="#262626" text-anchor="middle" textLength="4.50" lengthAdjust="spacingAndGlyphs" stroke="#262626" stroke-width="0.08">0</text>
<line x1="168.50" y1="440.00" x2="168.50" y2="441.80" stroke="#222" stroke-width="0.9"/>
<text x="168.50" y="449.22" font-size="7" fill="#262626" text-anchor="middle" textLength="8.00" lengthAdjust="spacingAndGlyphs" stroke="#262626" stroke-width="0.08">50</text>
<line x1="185.50" y1="440.00" x2="185.50" y2="441.80" stroke="#222" stroke-width="0.9"/>
<text x="185.90" y="449.22" font-size="7" fill="#262626" text-anchor="middle" textLength="12.00" lengthAdjust="spacingAndGlyphs" stroke="#262626" stroke-width="0.08">100</text>
<text x="218.20" y="431.35" font-size="6.8" fill="#262626" text-anchor="middle" textLength="31.7" lengthAdjust="spacingAndGlyphs" stroke="#262626" stroke-width="0.08">% <tspan font-style="italic">amp</tspan>(21)</text>
<rect x="199.50" y="435.00" width="37.50" height="5.00" fill="url(#gor)" stroke="#222" stroke-width="0.9"/>
<line x1="201.50" y1="440.00" x2="201.50" y2="441.80" stroke="#222" stroke-width="0.9"/>
<text x="202.00" y="449.22" font-size="7" fill="#262626" text-anchor="middle" textLength="4.50" lengthAdjust="spacingAndGlyphs" stroke="#262626" stroke-width="0.08">0</text>
<line x1="218.25" y1="440.00" x2="218.25" y2="441.80" stroke="#222" stroke-width="0.9"/>
<text x="218.25" y="449.22" font-size="7" fill="#262626" text-anchor="middle" textLength="8.00" lengthAdjust="spacingAndGlyphs" stroke="#262626" stroke-width="0.08">50</text>
<line x1="235.00" y1="440.00" x2="235.00" y2="441.80" stroke="#222" stroke-width="0.9"/>
<text x="235.40" y="449.22" font-size="7" fill="#262626" text-anchor="middle" textLength="12.00" lengthAdjust="spacingAndGlyphs" stroke="#262626" stroke-width="0.08">100</text>
<text x="302.50" y="328.76" font-size="9.6" fill="#a91e40" text-anchor="middle" textLength="39.00" lengthAdjust="spacingAndGlyphs" stroke="#a91e40" stroke-width="0.08">AML1012</text>
<rect x="285.80" y="337.50" width="8.02" height="10.10" fill="#f06838"/>
<rect x="293.23" y="337.50" width="8.02" height="10.10" fill="#f06838"/>
<rect x="300.65" y="337.50" width="8.02" height="10.10" fill="#f89868"/>
<rect x="308.07" y="337.50" width="8.02" height="10.10" fill="#fbb888"/>
<rect x="285.80" y="347.00" width="8.02" height="10.10" fill="#e84828"/>
<rect x="293.23" y="347.00" width="8.02" height="10.10" fill="#f07048"/>
<rect x="300.65" y="347.00" width="8.02" height="10.10" fill="#f07848"/>
<rect x="308.07" y="347.00" width="8.02" height="10.10" fill="#fbb080"/>
<rect x="285.80" y="356.50" width="8.02" height="10.10" fill="#e02020"/>
<rect x="293.23" y="356.50" width="8.02" height="10.10" fill="#e03020"/>
<rect x="300.65" y="356.50" width="8.02" height="10.10" fill="#e83828"/>
<rect x="308.07" y="356.50" width="8.02" height="10.10" fill="#f87848"/>
<rect x="285.80" y="366.00" width="8.02" height="10.10" fill="#f06040"/>
<rect x="293.23" y="366.00" width="8.02" height="10.10" fill="#f06848"/>
<rect x="300.65" y="366.00" width="8.02" height="10.10" fill="#f07848"/>
<rect x="308.07" y="366.00" width="8.02" height="10.10" fill="#fba070"/>
<rect x="285.80" y="375.50" width="8.02" height="10.10" fill="#d0d0d8"/>
<rect x="293.23" y="375.50" width="8.02" height="10.10" fill="#a01018"/>
<rect x="300.65" y="375.50" width="8.02" height="10.10" fill="#d0d0d8"/>
<rect x="308.07" y="375.50" width="8.02" height="10.10" fill="#e02828"/>
<rect x="285.80" y="337.50" width="29.70" height="47.50" fill="none" stroke="#222" stroke-width="1.1"/>
<text transform="translate(292.95,389.20) rotate(-90)" font-size="6.8" fill="#262626" text-anchor="end" textLength="30.50" lengthAdjust="spacingAndGlyphs" stroke="#262626" stroke-width="0.08">Screening</text>
<text transform="translate(300.45,389.20) rotate(-90)" font-size="6.8" fill="#262626" text-anchor="end" textLength="21.50" lengthAdjust="spacingAndGlyphs" stroke="#262626" stroke-width="0.08">Lead-in</text>
<text transform="translate(307.65,389.20) rotate(-90)" font-size="6.8" fill="#262626" text-anchor="end" textLength="8.50" lengthAdjust="spacingAndGlyphs" stroke="#262626" stroke-width="0.08">C2</text>
<text transform="translate(315.05,389.20) rotate(-90)" font-size="6.8" fill="#262626" text-anchor="end" textLength="12.50" lengthAdjust="spacingAndGlyphs" stroke="#262626" stroke-width="0.08">EOT</text>
<text x="300.00" y="431.35" font-size="6.8" fill="#262626" text-anchor="middle" textLength="25" lengthAdjust="spacingAndGlyphs" stroke="#262626" stroke-width="0.08">% <tspan font-style="italic">del</tspan>(5)</text>
<rect x="281.30" y="435.00" width="37.50" height="5.00" fill="url(#gor)" stroke="#222" stroke-width="0.9"/>
<line x1="283.30" y1="440.00" x2="283.30" y2="441.80" stroke="#222" stroke-width="0.9"/>
<text x="283.80" y="449.22" font-size="7" fill="#262626" text-anchor="middle" textLength="4.50" lengthAdjust="spacingAndGlyphs" stroke="#262626" stroke-width="0.08">0</text>
<line x1="300.05" y1="440.00" x2="300.05" y2="441.80" stroke="#222" stroke-width="0.9"/>
<text x="300.05" y="449.22" font-size="7" fill="#262626" text-anchor="middle" textLength="8.00" lengthAdjust="spacingAndGlyphs" stroke="#262626" stroke-width="0.08">50</text>
<line x1="316.80" y1="440.00" x2="316.80" y2="441.80" stroke="#222" stroke-width="0.9"/>
<text x="317.20" y="449.22" font-size="7" fill="#262626" text-anchor="middle" textLength="12.00" lengthAdjust="spacingAndGlyphs" stroke="#262626" stroke-width="0.08">100</text>
<text x="352.50" y="328.76" font-size="9.6" fill="#a91e40" text-anchor="middle" textLength="39.00" lengthAdjust="spacingAndGlyphs" stroke="#a91e40" stroke-width="0.08">AML1016</text>
<rect x="345.40" y="337.50" width="7.85" height="10.10" fill="#e84028"/>
<rect x="352.65" y="337.50" width="7.85" height="10.10" fill="#f08048"/>
<rect x="345.40" y="347.00" width="7.85" height="10.10" fill="#e02020"/>
<rect x="352.65" y="347.00" width="7.85" height="10.10" fill="#fbc090"/>
<rect x="345.40" y="356.50" width="7.85" height="10.10" fill="#e8e8ee"/>
<rect x="352.65" y="356.50" width="7.85" height="10.10" fill="#fbd0a8"/>
<rect x="345.40" y="366.00" width="7.85" height="10.10" fill="#ececf0"/>
<rect x="352.65" y="366.00" width="7.85" height="10.10" fill="#fdd8b8"/>
<rect x="345.40" y="375.50" width="7.85" height="10.10" fill="#fdf0e0"/>
<rect x="352.65" y="375.50" width="7.85" height="10.10" fill="#fde0c0"/>
<rect x="345.40" y="337.50" width="14.50" height="47.50" fill="none" stroke="#222" stroke-width="1.1"/>
<text transform="translate(351.25,389.20) rotate(-90)" font-size="6.8" fill="#262626" text-anchor="end" textLength="30.50" lengthAdjust="spacingAndGlyphs" stroke="#262626" stroke-width="0.08">Screening</text>
<text transform="translate(359.85,389.20) rotate(-90)" font-size="6.8" fill="#262626" text-anchor="end" textLength="8.50" lengthAdjust="spacingAndGlyphs" stroke="#262626" stroke-width="0.08">C2</text>
<text x="350.80" y="431.35" font-size="6.8" fill="#262626" text-anchor="middle" textLength="33.2" lengthAdjust="spacingAndGlyphs" stroke="#262626" stroke-width="0.08">% <tspan font-style="italic">del</tspan>(17p)</text>
<rect x="332.00" y="435.00" width="37.50" height="5.00" fill="url(#gor)" stroke="#222" stroke-width="0.9"/>
<line x1="334.00" y1="440.00" x2="334.00" y2="441.80" stroke="#222" stroke-width="0.9"/>
<text x="334.50" y="449.22" font-size="7" fill="#262626" text-anchor="middle" textLength="4.50" lengthAdjust="spacingAndGlyphs" stroke="#262626" stroke-width="0.08">0</text>
<line x1="350.75" y1="440.00" x2="350.75" y2="441.80" stroke="#222" stroke-width="0.9"/>
<text x="350.75" y="449.22" font-size="7" fill="#262626" text-anchor="middle" textLength="8.00" lengthAdjust="spacingAndGlyphs" stroke="#262626" stroke-width="0.08">50</text>
<line x1="367.50" y1="440.00" x2="367.50" y2="441.80" stroke="#222" stroke-width="0.9"/>
<text x="367.90" y="449.22" font-size="7" fill="#262626" text-anchor="middle" textLength="12.00" lengthAdjust="spacingAndGlyphs" stroke="#262626" stroke-width="0.08">100</text>
<text x="405.00" y="328.76" font-size="9.6" fill="#a91e40" text-anchor="middle" textLength="39.00" lengthAdjust="spacingAndGlyphs" stroke="#a91e40" stroke-width="0.08">AML1022</text>
<rect x="392.30" y="337.50" width="8.03" height="10.10" fill="#f07050"/>
<rect x="399.73" y="337.50" width="8.03" height="10.10" fill="#d82020"/>
<rect x="407.17" y="337.50" width="8.03" height="10.10" fill="#f06040"/>
<rect x="392.30" y="347.00" width="8.03" height="10.10" fill="#f07048"/>
<rect x="399.73" y="347.00" width="8.03" height="10.10" fill="#f06840"/>
<rect x="407.17" y="347.00" width="8.03" height="10.10" fill="#f07848"/>
<rect x="392.30" y="356.50" width="8.03" height="10.10" fill="#fbb080"/>
<rect x="399.73" y="356.50" width="8.03" height="10.10" fill="#fbb888"/>
<rect x="407.17" y="356.50" width="8.03" height="10.10" fill="#fbb080"/>
<rect x="392.30" y="366.00" width="8.03" height="10.10" fill="#fde0c8"/>
<rect x="399.73" y="366.00" width="8.03" height="10.10" fill="#fbc8a0"/>
<rect x="407.17" y="366.00" width="8.03" height="10.10" fill="#fdd8b8"/>
<rect x="392.30" y="375.50" width="8.03" height="10.10" fill="#eaeaee"/>
<rect x="399.73" y="375.50" width="8.03" height="10.10" fill="#e8e8ee"/>
<rect x="407.17" y="375.50" width="8.03" height="10.10" fill="#fbc090"/>
<rect x="392.30" y="337.50" width="22.30" height="47.50" fill="none" stroke="#222" stroke-width="1.1"/>
<text transform="translate(397.95,389.20) rotate(-90)" font-size="6.8" fill="#262626" text-anchor="end" textLength="30.50" lengthAdjust="spacingAndGlyphs" stroke="#262626" stroke-width="0.08">Screening</text>
<text transform="translate(406.25,389.20) rotate(-90)" font-size="6.8" fill="#262626" text-anchor="end" textLength="21.50" lengthAdjust="spacingAndGlyphs" stroke="#262626" stroke-width="0.08">Lead-in</text>
<text transform="translate(413.75,389.20) rotate(-90)" font-size="6.8" fill="#262626" text-anchor="end" textLength="8.50" lengthAdjust="spacingAndGlyphs" stroke="#262626" stroke-width="0.08">C1</text>
<text x="403.00" y="431.35" font-size="6.8" fill="#262626" text-anchor="middle" textLength="29.5" lengthAdjust="spacingAndGlyphs" stroke="#262626" stroke-width="0.08">% <tspan font-style="italic">del</tspan>(20)</text>
<rect x="384.30" y="435.00" width="37.50" height="5.00" fill="url(#gor)" stroke="#222" stroke-width="0.9"/>
<line x1="386.30" y1="440.00" x2="386.30" y2="441.80" stroke="#222" stroke-width="0.9"/>
<text x="386.80" y="449.22" font-size="7" fill="#262626" text-anchor="middle" textLength="4.50" lengthAdjust="spacingAndGlyphs" stroke="#262626" stroke-width="0.08">0</text>
<line x1="403.05" y1="440.00" x2="403.05" y2="441.80" stroke="#222" stroke-width="0.9"/>
<text x="403.05" y="449.22" font-size="7" fill="#262626" text-anchor="middle" textLength="8.00" lengthAdjust="spacingAndGlyphs" stroke="#262626" stroke-width="0.08">50</text>
<line x1="419.80" y1="440.00" x2="419.80" y2="441.80" stroke="#222" stroke-width="0.9"/>
<text x="420.20" y="449.22" font-size="7" fill="#262626" text-anchor="middle" textLength="12.00" lengthAdjust="spacingAndGlyphs" stroke="#262626" stroke-width="0.08">100</text>
<text x="461.90" y="328.76" font-size="9.6" fill="#a91e40" text-anchor="middle" textLength="38.80" lengthAdjust="spacingAndGlyphs" stroke="#a91e40" stroke-width="0.08">AML5003</text>
<rect x="449.50" y="337.50" width="7.87" height="10.10" fill="#fad0a8"/>
<rect x="456.77" y="337.50" width="7.87" height="10.10" fill="#fefaf5"/>
<rect x="464.03" y="337.50" width="7.87" height="10.10" fill="#ffffff"/>
<rect x="449.50" y="347.00" width="7.87" height="10.10" fill="#fbd5b0"/>
<rect x="456.77" y="347.00" width="7.87" height="10.10" fill="#fef6ee"/>
<rect x="464.03" y="347.00" width="7.87" height="10.10" fill="#fffcf8"/>
<rect x="449.50" y="356.50" width="7.87" height="10.10" fill="#fdf3ea"/>
<rect x="456.77" y="356.50" width="7.87" height="10.10" fill="#fbd8b8"/>
<rect x="464.03" y="356.50" width="7.87" height="10.10" fill="#fef6ee"/>
<rect x="449.50" y="366.00" width="7.87" height="10.10" fill="#e8e8e8"/>
<rect x="456.77" y="366.00" width="7.87" height="10.10" fill="#e8e8e8"/>
<rect x="464.03" y="366.00" width="7.87" height="10.10" fill="#e8e8e8"/>
<rect x="449.50" y="375.50" width="7.87" height="10.10" fill="#e8e8e8"/>
<rect x="456.77" y="375.50" width="7.87" height="10.10" fill="#e8e8e8"/>
<rect x="464.03" y="375.50" width="7.87" height="10.10" fill="#e8e8e8"/>
<rect x="449.50" y="337.50" width="21.80" height="47.50" fill="none" stroke="#222" stroke-width="1.1"/>
<text transform="translate(455.45,389.20) rotate(-90)" font-size="6.8" fill="#262626" text-anchor="end" textLength="30.50" lengthAdjust="spacingAndGlyphs" stroke="#262626" stroke-width="0.08">Screening</text>
<text transform="translate(462.95,389.20) rotate(-90)" font-size="6.8" fill="#262626" text-anchor="end" textLength="17.00" lengthAdjust="spacingAndGlyphs" stroke="#262626" stroke-width="0.08">EOLN</text>
<text transform="translate(469.95,389.20) rotate(-90)" font-size="6.8" fill="#262626" text-anchor="end" textLength="8.50" lengthAdjust="spacingAndGlyphs" stroke="#262626" stroke-width="0.08">C1</text>
<text x="459.50" y="431.35" font-size="6.8" fill="#262626" text-anchor="middle" textLength="28.9" lengthAdjust="spacingAndGlyphs" stroke="#262626" stroke-width="0.08">% <tspan font-style="italic">del</tspan>(7q)</text>
<rect x="440.80" y="435.00" width="37.20" height="5.00" fill="url(#gor)" stroke="#222" stroke-width="0.9"/>
<line x1="442.80" y1="440.00" x2="442.80" y2="441.80" stroke="#222" stroke-width="0.9"/>
<text x="443.30" y="449.22" font-size="7" fill="#262626" text-anchor="middle" textLength="4.50" lengthAdjust="spacingAndGlyphs" stroke="#262626" stroke-width="0.08">0</text>
<line x1="459.40" y1="440.00" x2="459.40" y2="441.80" stroke="#222" stroke-width="0.9"/>
<text x="459.40" y="449.22" font-size="7" fill="#262626" text-anchor="middle" textLength="8.00" lengthAdjust="spacingAndGlyphs" stroke="#262626" stroke-width="0.08">50</text>
<line x1="476.00" y1="440.00" x2="476.00" y2="441.80" stroke="#222" stroke-width="0.9"/>
<text x="476.40" y="449.22" font-size="7" fill="#262626" text-anchor="middle" textLength="12.00" lengthAdjust="spacingAndGlyphs" stroke="#262626" stroke-width="0.08">100</text>
<text x="11.00" y="458.22" font-size="7" fill="#262626" textLength="59.80" lengthAdjust="spacingAndGlyphs" stroke="#262626" stroke-width="0.08">Best Response :  C6</text>
<text x="108.70" y="458.22" font-size="7" fill="#262626" text-anchor="middle" textLength="8.80" lengthAdjust="spacingAndGlyphs" stroke="#262626" stroke-width="0.08">C4</text>
<rect x="0.50" y="0.50" width="519.00" height="466.00" fill="none" stroke="#4a4a4a" stroke-width="1"/>
</svg>
</body></html>
